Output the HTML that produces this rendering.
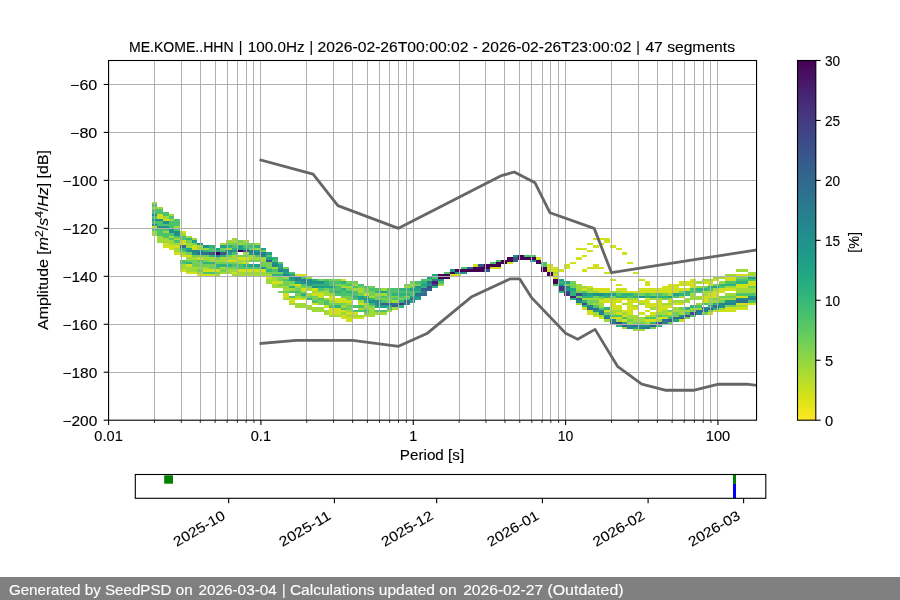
<!DOCTYPE html><html><head><meta charset="utf-8"><style>html,body{margin:0;padding:0;width:900px;height:600px;overflow:hidden;background:#fff}</style></head><body><svg width="900" height="600" viewBox="0 0 900 600" style="position:absolute;left:0;top:0;will-change:transform" font-family='"Liberation Sans", sans-serif'>
<rect x="0" y="0" width="900" height="600" fill="#fff"/>
<g shape-rendering="crispEdges">
<rect x="151.56" y="201.98" width="5.73" height="2.40" fill="#a0da39"/><rect x="151.56" y="204.38" width="5.73" height="2.40" fill="#4cc26c"/><rect x="151.56" y="206.78" width="5.73" height="2.40" fill="#a0da39"/><rect x="151.56" y="209.18" width="5.73" height="2.40" fill="#4cc26c"/><rect x="151.56" y="211.57" width="5.73" height="2.40" fill="#4cc26c"/><rect x="151.56" y="213.97" width="5.73" height="2.40" fill="#21918c"/><rect x="151.56" y="216.37" width="5.73" height="2.40" fill="#4cc26c"/><rect x="151.56" y="218.77" width="5.73" height="2.40" fill="#21918c"/><rect x="151.56" y="221.17" width="5.73" height="2.40" fill="#4cc26c"/><rect x="151.56" y="223.56" width="5.73" height="2.40" fill="#21918c"/><rect x="151.56" y="225.96" width="5.73" height="2.40" fill="#d0e11c"/><rect x="151.56" y="228.36" width="5.73" height="2.40" fill="#4cc26c"/><rect x="151.56" y="230.76" width="5.73" height="2.40" fill="#a0da39"/><rect x="151.56" y="233.16" width="5.73" height="2.40" fill="#a0da39"/><rect x="157.29" y="206.78" width="5.73" height="2.40" fill="#a0da39"/><rect x="157.29" y="209.18" width="5.73" height="2.40" fill="#4cc26c"/><rect x="157.29" y="211.57" width="5.73" height="2.40" fill="#4cc26c"/><rect x="157.29" y="213.97" width="5.73" height="2.40" fill="#d0e11c"/><rect x="157.29" y="216.37" width="5.73" height="2.40" fill="#d0e11c"/><rect x="157.29" y="218.77" width="5.73" height="2.40" fill="#21918c"/><rect x="157.29" y="221.17" width="5.73" height="2.40" fill="#4cc26c"/><rect x="157.29" y="223.56" width="5.73" height="2.40" fill="#4cc26c"/><rect x="157.29" y="225.96" width="5.73" height="2.40" fill="#21918c"/><rect x="157.29" y="228.36" width="5.73" height="2.40" fill="#4cc26c"/><rect x="157.29" y="230.76" width="5.73" height="2.40" fill="#4cc26c"/><rect x="157.29" y="233.16" width="5.73" height="2.40" fill="#4cc26c"/><rect x="157.29" y="235.55" width="5.73" height="2.40" fill="#a0da39"/><rect x="157.29" y="237.95" width="5.73" height="2.40" fill="#a0da39"/><rect x="157.29" y="240.35" width="5.73" height="2.40" fill="#a0da39"/><rect x="163.03" y="211.57" width="5.73" height="2.40" fill="#4cc26c"/><rect x="163.03" y="213.97" width="5.73" height="2.40" fill="#4cc26c"/><rect x="163.03" y="216.37" width="5.73" height="2.40" fill="#a0da39"/><rect x="163.03" y="218.77" width="5.73" height="2.40" fill="#d0e11c"/><rect x="163.03" y="221.17" width="5.73" height="2.40" fill="#21918c"/><rect x="163.03" y="223.56" width="5.73" height="2.40" fill="#4cc26c"/><rect x="163.03" y="225.96" width="5.73" height="2.40" fill="#21918c"/><rect x="163.03" y="228.36" width="5.73" height="2.40" fill="#4cc26c"/><rect x="163.03" y="230.76" width="5.73" height="2.40" fill="#a0da39"/><rect x="163.03" y="233.16" width="5.73" height="2.40" fill="#4cc26c"/><rect x="163.03" y="235.55" width="5.73" height="2.40" fill="#4cc26c"/><rect x="163.03" y="237.95" width="5.73" height="2.40" fill="#a0da39"/><rect x="163.03" y="240.35" width="5.73" height="2.40" fill="#a0da39"/><rect x="163.03" y="242.75" width="5.73" height="2.40" fill="#d0e11c"/><rect x="163.03" y="245.15" width="5.73" height="2.40" fill="#d0e11c"/><rect x="168.76" y="213.97" width="5.73" height="2.40" fill="#a0da39"/><rect x="168.76" y="216.37" width="5.73" height="2.40" fill="#4cc26c"/><rect x="168.76" y="218.77" width="5.73" height="2.40" fill="#a0da39"/><rect x="168.76" y="221.17" width="5.73" height="2.40" fill="#4cc26c"/><rect x="168.76" y="223.56" width="5.73" height="2.40" fill="#4cc26c"/><rect x="168.76" y="225.96" width="5.73" height="2.40" fill="#4cc26c"/><rect x="168.76" y="228.36" width="5.73" height="2.40" fill="#21918c"/><rect x="168.76" y="230.76" width="5.73" height="2.40" fill="#21918c"/><rect x="168.76" y="233.16" width="5.73" height="2.40" fill="#4cc26c"/><rect x="168.76" y="235.55" width="5.73" height="2.40" fill="#a0da39"/><rect x="168.76" y="237.95" width="5.73" height="2.40" fill="#4cc26c"/><rect x="168.76" y="240.35" width="5.73" height="2.40" fill="#a0da39"/><rect x="168.76" y="242.75" width="5.73" height="2.40" fill="#a0da39"/><rect x="168.76" y="245.15" width="5.73" height="2.40" fill="#d0e11c"/><rect x="168.76" y="247.54" width="5.73" height="2.40" fill="#d0e11c"/><rect x="174.49" y="218.77" width="5.73" height="2.40" fill="#4cc26c"/><rect x="174.49" y="221.17" width="5.73" height="2.40" fill="#4cc26c"/><rect x="174.49" y="223.56" width="5.73" height="2.40" fill="#4cc26c"/><rect x="174.49" y="225.96" width="5.73" height="2.40" fill="#a0da39"/><rect x="174.49" y="228.36" width="5.73" height="2.40" fill="#4cc26c"/><rect x="174.49" y="230.76" width="5.73" height="2.40" fill="#21918c"/><rect x="174.49" y="233.16" width="5.73" height="2.40" fill="#21918c"/><rect x="174.49" y="235.55" width="5.73" height="2.40" fill="#4cc26c"/><rect x="174.49" y="237.95" width="5.73" height="2.40" fill="#a0da39"/><rect x="174.49" y="240.35" width="5.73" height="2.40" fill="#4cc26c"/><rect x="174.49" y="242.75" width="5.73" height="2.40" fill="#a0da39"/><rect x="174.49" y="245.15" width="5.73" height="2.40" fill="#d0e11c"/><rect x="174.49" y="247.54" width="5.73" height="2.40" fill="#a0da39"/><rect x="174.49" y="249.94" width="5.73" height="2.40" fill="#a0da39"/><rect x="174.49" y="252.34" width="5.73" height="2.40" fill="#d0e11c"/><rect x="180.22" y="249.94" width="5.73" height="2.40" fill="#4cc26c"/><rect x="180.22" y="247.54" width="5.73" height="2.40" fill="#2eb37c"/><rect x="180.22" y="245.15" width="5.73" height="2.40" fill="#2e6f8e"/><rect x="180.22" y="240.35" width="5.73" height="2.40" fill="#d0e11c"/><rect x="180.22" y="237.95" width="5.73" height="2.40" fill="#4cc26c"/><rect x="180.22" y="235.55" width="5.73" height="2.40" fill="#4cc26c"/><rect x="180.22" y="261.93" width="5.73" height="2.40" fill="#4cc26c"/><rect x="180.22" y="259.53" width="5.73" height="2.40" fill="#4cc26c"/><rect x="180.22" y="230.76" width="5.73" height="2.40" fill="#d0e11c"/><rect x="180.22" y="233.16" width="5.73" height="2.40" fill="#a0da39"/><rect x="180.22" y="242.75" width="5.73" height="2.40" fill="#d0e11c"/><rect x="180.22" y="252.34" width="5.73" height="2.40" fill="#a0da39"/><rect x="180.22" y="254.74" width="5.73" height="2.40" fill="#d0e11c"/><rect x="180.22" y="264.33" width="5.73" height="2.40" fill="#a0da39"/><rect x="180.22" y="266.73" width="5.73" height="2.40" fill="#a0da39"/><rect x="180.22" y="269.13" width="5.73" height="2.40" fill="#d0e11c"/><rect x="185.96" y="252.34" width="5.73" height="2.40" fill="#73d056"/><rect x="185.96" y="249.94" width="5.73" height="2.40" fill="#21918c"/><rect x="185.96" y="247.54" width="5.73" height="2.40" fill="#1fa287"/><rect x="185.96" y="245.15" width="5.73" height="2.40" fill="#a0da39"/><rect x="185.96" y="240.35" width="5.73" height="2.40" fill="#73d056"/><rect x="185.96" y="237.95" width="5.73" height="2.40" fill="#2eb37c"/><rect x="185.96" y="235.55" width="5.73" height="2.40" fill="#a0da39"/><rect x="185.96" y="261.93" width="5.73" height="2.40" fill="#2eb37c"/><rect x="185.96" y="259.53" width="5.73" height="2.40" fill="#73d056"/><rect x="185.96" y="242.75" width="5.73" height="2.40" fill="#a0da39"/><rect x="185.96" y="254.74" width="5.73" height="2.40" fill="#d0e11c"/><rect x="185.96" y="257.14" width="5.73" height="2.40" fill="#a0da39"/><rect x="185.96" y="264.33" width="5.73" height="2.40" fill="#d0e11c"/><rect x="185.96" y="266.73" width="5.73" height="2.40" fill="#a0da39"/><rect x="185.96" y="269.13" width="5.73" height="2.40" fill="#a0da39"/><rect x="185.96" y="271.52" width="5.73" height="2.40" fill="#d0e11c"/><rect x="191.69" y="252.34" width="5.73" height="2.40" fill="#21918c"/><rect x="191.69" y="249.94" width="5.73" height="2.40" fill="#27808e"/><rect x="191.69" y="240.35" width="5.73" height="2.40" fill="#1fa287"/><rect x="191.69" y="237.95" width="5.73" height="2.40" fill="#a0da39"/><rect x="191.69" y="264.33" width="5.73" height="2.40" fill="#73d056"/><rect x="191.69" y="261.93" width="5.73" height="2.40" fill="#73d056"/><rect x="191.69" y="259.53" width="5.73" height="2.40" fill="#73d056"/><rect x="191.69" y="242.75" width="5.73" height="2.40" fill="#73d056"/><rect x="191.69" y="245.15" width="5.73" height="2.40" fill="#d0e11c"/><rect x="191.69" y="247.54" width="5.73" height="2.40" fill="#d0e11c"/><rect x="191.69" y="254.74" width="5.73" height="2.40" fill="#73d056"/><rect x="191.69" y="257.14" width="5.73" height="2.40" fill="#a0da39"/><rect x="191.69" y="266.73" width="5.73" height="2.40" fill="#a0da39"/><rect x="191.69" y="269.13" width="5.73" height="2.40" fill="#a0da39"/><rect x="191.69" y="271.52" width="5.73" height="2.40" fill="#d0e11c"/><rect x="197.42" y="252.34" width="5.73" height="2.40" fill="#2e6f8e"/><rect x="197.42" y="254.74" width="5.73" height="2.40" fill="#73d056"/><rect x="197.42" y="249.94" width="5.73" height="2.40" fill="#21918c"/><rect x="197.42" y="242.75" width="5.73" height="2.40" fill="#21918c"/><rect x="197.42" y="264.33" width="5.73" height="2.40" fill="#73d056"/><rect x="197.42" y="261.93" width="5.73" height="2.40" fill="#73d056"/><rect x="197.42" y="259.53" width="5.73" height="2.40" fill="#4cc26c"/><rect x="197.42" y="245.15" width="5.73" height="2.40" fill="#a0da39"/><rect x="197.42" y="247.54" width="5.73" height="2.40" fill="#a0da39"/><rect x="197.42" y="257.14" width="5.73" height="2.40" fill="#d0e11c"/><rect x="197.42" y="266.73" width="5.73" height="2.40" fill="#a0da39"/><rect x="197.42" y="269.13" width="5.73" height="2.40" fill="#73d056"/><rect x="197.42" y="271.52" width="5.73" height="2.40" fill="#a0da39"/><rect x="197.42" y="273.92" width="5.73" height="2.40" fill="#d0e11c"/><rect x="203.16" y="252.34" width="5.73" height="2.40" fill="#2e6f8e"/><rect x="203.16" y="254.74" width="5.73" height="2.40" fill="#73d056"/><rect x="203.16" y="249.94" width="5.73" height="2.40" fill="#2eb37c"/><rect x="203.16" y="245.15" width="5.73" height="2.40" fill="#21918c"/><rect x="203.16" y="264.33" width="5.73" height="2.40" fill="#73d056"/><rect x="203.16" y="261.93" width="5.73" height="2.40" fill="#2eb37c"/><rect x="203.16" y="247.54" width="5.73" height="2.40" fill="#a0da39"/><rect x="203.16" y="257.14" width="5.73" height="2.40" fill="#a0da39"/><rect x="203.16" y="259.53" width="5.73" height="2.40" fill="#73d056"/><rect x="203.16" y="266.73" width="5.73" height="2.40" fill="#a0da39"/><rect x="203.16" y="269.13" width="5.73" height="2.40" fill="#d0e11c"/><rect x="203.16" y="271.52" width="5.73" height="2.40" fill="#4cc26c"/><rect x="203.16" y="273.92" width="5.73" height="2.40" fill="#d0e11c"/><rect x="208.89" y="254.74" width="5.73" height="2.40" fill="#2eb37c"/><rect x="208.89" y="252.34" width="5.73" height="2.40" fill="#39568c"/><rect x="208.89" y="249.94" width="5.73" height="2.40" fill="#4cc26c"/><rect x="208.89" y="247.54" width="5.73" height="2.40" fill="#4cc26c"/><rect x="208.89" y="245.15" width="5.73" height="2.40" fill="#2eb37c"/><rect x="208.89" y="266.73" width="5.73" height="2.40" fill="#73d056"/><rect x="208.89" y="264.33" width="5.73" height="2.40" fill="#73d056"/><rect x="208.89" y="261.93" width="5.73" height="2.40" fill="#2eb37c"/><rect x="208.89" y="257.14" width="5.73" height="2.40" fill="#a0da39"/><rect x="208.89" y="259.53" width="5.73" height="2.40" fill="#a0da39"/><rect x="208.89" y="269.13" width="5.73" height="2.40" fill="#d0e11c"/><rect x="208.89" y="271.52" width="5.73" height="2.40" fill="#4cc26c"/><rect x="208.89" y="273.92" width="5.73" height="2.40" fill="#d0e11c"/><rect x="214.62" y="254.74" width="5.73" height="2.40" fill="#27808e"/><rect x="214.62" y="257.14" width="5.73" height="2.40" fill="#73d056"/><rect x="214.62" y="252.34" width="5.73" height="2.40" fill="#440154"/><rect x="214.62" y="249.94" width="5.73" height="2.40" fill="#2eb37c"/><rect x="214.62" y="247.54" width="5.73" height="2.40" fill="#1fa287"/><rect x="214.62" y="266.73" width="5.73" height="2.40" fill="#4cc26c"/><rect x="214.62" y="264.33" width="5.73" height="2.40" fill="#2eb37c"/><rect x="214.62" y="261.93" width="5.73" height="2.40" fill="#73d056"/><rect x="214.62" y="259.53" width="5.73" height="2.40" fill="#a0da39"/><rect x="214.62" y="269.13" width="5.73" height="2.40" fill="#d0e11c"/><rect x="214.62" y="271.52" width="5.73" height="2.40" fill="#73d056"/><rect x="214.62" y="273.92" width="5.73" height="2.40" fill="#a0da39"/><rect x="220.35" y="254.74" width="5.73" height="2.40" fill="#2eb37c"/><rect x="220.35" y="252.34" width="5.73" height="2.40" fill="#39568c"/><rect x="220.35" y="249.94" width="5.73" height="2.40" fill="#4cc26c"/><rect x="220.35" y="247.54" width="5.73" height="2.40" fill="#73d056"/><rect x="220.35" y="245.15" width="5.73" height="2.40" fill="#1fa287"/><rect x="220.35" y="266.73" width="5.73" height="2.40" fill="#a0da39"/><rect x="220.35" y="264.33" width="5.73" height="2.40" fill="#2eb37c"/><rect x="220.35" y="261.93" width="5.73" height="2.40" fill="#73d056"/><rect x="220.35" y="242.75" width="5.73" height="2.40" fill="#a0da39"/><rect x="220.35" y="257.14" width="5.73" height="2.40" fill="#a0da39"/><rect x="220.35" y="259.53" width="5.73" height="2.40" fill="#a0da39"/><rect x="220.35" y="269.13" width="5.73" height="2.40" fill="#73d056"/><rect x="220.35" y="271.52" width="5.73" height="2.40" fill="#a0da39"/><rect x="226.09" y="254.74" width="5.73" height="2.40" fill="#73d056"/><rect x="226.09" y="252.34" width="5.73" height="2.40" fill="#1fa287"/><rect x="226.09" y="249.94" width="5.73" height="2.40" fill="#27808e"/><rect x="226.09" y="247.54" width="5.73" height="2.40" fill="#a0da39"/><rect x="226.09" y="245.15" width="5.73" height="2.40" fill="#2eb37c"/><rect x="226.09" y="242.75" width="5.73" height="2.40" fill="#73d056"/><rect x="226.09" y="266.73" width="5.73" height="2.40" fill="#73d056"/><rect x="226.09" y="264.33" width="5.73" height="2.40" fill="#2eb37c"/><rect x="226.09" y="261.93" width="5.73" height="2.40" fill="#73d056"/><rect x="226.09" y="240.35" width="5.73" height="2.40" fill="#a0da39"/><rect x="226.09" y="257.14" width="5.73" height="2.40" fill="#a0da39"/><rect x="226.09" y="259.53" width="5.73" height="2.40" fill="#d0e11c"/><rect x="226.09" y="269.13" width="5.73" height="2.40" fill="#a0da39"/><rect x="226.09" y="271.52" width="5.73" height="2.40" fill="#a0da39"/><rect x="231.82" y="252.34" width="5.73" height="2.40" fill="#4cc26c"/><rect x="231.82" y="249.94" width="5.73" height="2.40" fill="#21918c"/><rect x="231.82" y="247.54" width="5.73" height="2.40" fill="#2eb37c"/><rect x="231.82" y="245.15" width="5.73" height="2.40" fill="#4cc26c"/><rect x="231.82" y="242.75" width="5.73" height="2.40" fill="#73d056"/><rect x="231.82" y="240.35" width="5.73" height="2.40" fill="#a0da39"/><rect x="231.82" y="266.73" width="5.73" height="2.40" fill="#73d056"/><rect x="231.82" y="264.33" width="5.73" height="2.40" fill="#4cc26c"/><rect x="231.82" y="261.93" width="5.73" height="2.40" fill="#73d056"/><rect x="231.82" y="237.95" width="5.73" height="2.40" fill="#a0da39"/><rect x="231.82" y="254.74" width="5.73" height="2.40" fill="#a0da39"/><rect x="231.82" y="257.14" width="5.73" height="2.40" fill="#a0da39"/><rect x="231.82" y="259.53" width="5.73" height="2.40" fill="#d0e11c"/><rect x="231.82" y="269.13" width="5.73" height="2.40" fill="#a0da39"/><rect x="231.82" y="271.52" width="5.73" height="2.40" fill="#d0e11c"/><rect x="231.82" y="273.92" width="5.73" height="2.40" fill="#a0da39"/><rect x="237.55" y="249.94" width="5.73" height="2.40" fill="#440154"/><rect x="237.55" y="247.54" width="5.73" height="2.40" fill="#1fa287"/><rect x="237.55" y="245.15" width="5.73" height="2.40" fill="#1fa287"/><rect x="237.55" y="242.75" width="5.73" height="2.40" fill="#a0da39"/><rect x="237.55" y="240.35" width="5.73" height="2.40" fill="#73d056"/><rect x="237.55" y="266.73" width="5.73" height="2.40" fill="#4cc26c"/><rect x="237.55" y="264.33" width="5.73" height="2.40" fill="#4cc26c"/><rect x="237.55" y="261.93" width="5.73" height="2.40" fill="#a0da39"/><rect x="237.55" y="254.74" width="5.73" height="2.40" fill="#73d056"/><rect x="237.55" y="257.14" width="5.73" height="2.40" fill="#d0e11c"/><rect x="237.55" y="259.53" width="5.73" height="2.40" fill="#a0da39"/><rect x="237.55" y="269.13" width="5.73" height="2.40" fill="#d0e11c"/><rect x="237.55" y="271.52" width="5.73" height="2.40" fill="#a0da39"/><rect x="237.55" y="273.92" width="5.73" height="2.40" fill="#a0da39"/><rect x="243.28" y="249.94" width="5.73" height="2.40" fill="#39568c"/><rect x="243.28" y="252.34" width="5.73" height="2.40" fill="#a0da39"/><rect x="243.28" y="247.54" width="5.73" height="2.40" fill="#2eb37c"/><rect x="243.28" y="245.15" width="5.73" height="2.40" fill="#4cc26c"/><rect x="243.28" y="242.75" width="5.73" height="2.40" fill="#73d056"/><rect x="243.28" y="266.73" width="5.73" height="2.40" fill="#4cc26c"/><rect x="243.28" y="264.33" width="5.73" height="2.40" fill="#2eb37c"/><rect x="243.28" y="240.35" width="5.73" height="2.40" fill="#a0da39"/><rect x="243.28" y="254.74" width="5.73" height="2.40" fill="#73d056"/><rect x="243.28" y="257.14" width="5.73" height="2.40" fill="#d0e11c"/><rect x="243.28" y="259.53" width="5.73" height="2.40" fill="#a0da39"/><rect x="243.28" y="261.93" width="5.73" height="2.40" fill="#d0e11c"/><rect x="243.28" y="269.13" width="5.73" height="2.40" fill="#d0e11c"/><rect x="243.28" y="271.52" width="5.73" height="2.40" fill="#a0da39"/><rect x="243.28" y="273.92" width="5.73" height="2.40" fill="#a0da39"/><rect x="249.02" y="252.34" width="5.73" height="2.40" fill="#21918c"/><rect x="249.02" y="254.74" width="5.73" height="2.40" fill="#a0da39"/><rect x="249.02" y="249.94" width="5.73" height="2.40" fill="#27808e"/><rect x="249.02" y="247.54" width="5.73" height="2.40" fill="#73d056"/><rect x="249.02" y="245.15" width="5.73" height="2.40" fill="#4cc26c"/><rect x="249.02" y="242.75" width="5.73" height="2.40" fill="#73d056"/><rect x="249.02" y="266.73" width="5.73" height="2.40" fill="#4cc26c"/><rect x="249.02" y="264.33" width="5.73" height="2.40" fill="#1fa287"/><rect x="249.02" y="257.14" width="5.73" height="2.40" fill="#a0da39"/><rect x="249.02" y="259.53" width="5.73" height="2.40" fill="#73d056"/><rect x="249.02" y="269.13" width="5.73" height="2.40" fill="#d0e11c"/><rect x="249.02" y="271.52" width="5.73" height="2.40" fill="#a0da39"/><rect x="249.02" y="273.92" width="5.73" height="2.40" fill="#a0da39"/><rect x="254.75" y="254.74" width="5.73" height="2.40" fill="#4cc26c"/><rect x="254.75" y="252.34" width="5.73" height="2.40" fill="#27808e"/><rect x="254.75" y="249.94" width="5.73" height="2.40" fill="#1fa287"/><rect x="254.75" y="247.54" width="5.73" height="2.40" fill="#a0da39"/><rect x="254.75" y="245.15" width="5.73" height="2.40" fill="#2eb37c"/><rect x="254.75" y="266.73" width="5.73" height="2.40" fill="#4cc26c"/><rect x="254.75" y="264.33" width="5.73" height="2.40" fill="#1fa287"/><rect x="254.75" y="242.75" width="5.73" height="2.40" fill="#a0da39"/><rect x="254.75" y="257.14" width="5.73" height="2.40" fill="#a0da39"/><rect x="254.75" y="259.53" width="5.73" height="2.40" fill="#73d056"/><rect x="254.75" y="269.13" width="5.73" height="2.40" fill="#d0e11c"/><rect x="254.75" y="271.52" width="5.73" height="2.40" fill="#a0da39"/><rect x="254.75" y="273.92" width="5.73" height="2.40" fill="#a0da39"/><rect x="260.48" y="257.14" width="5.73" height="2.40" fill="#a0da39"/><rect x="260.48" y="254.74" width="5.73" height="2.40" fill="#27808e"/><rect x="260.48" y="252.34" width="5.73" height="2.40" fill="#27808e"/><rect x="260.48" y="249.94" width="5.73" height="2.40" fill="#73d056"/><rect x="260.48" y="247.54" width="5.73" height="2.40" fill="#1fa287"/><rect x="260.48" y="266.73" width="5.73" height="2.40" fill="#21918c"/><rect x="260.48" y="264.33" width="5.73" height="2.40" fill="#73d056"/><rect x="260.48" y="259.53" width="5.73" height="2.40" fill="#a0da39"/><rect x="260.48" y="261.93" width="5.73" height="2.40" fill="#73d056"/><rect x="260.48" y="269.13" width="5.73" height="2.40" fill="#d0e11c"/><rect x="260.48" y="271.52" width="5.73" height="2.40" fill="#a0da39"/><rect x="260.48" y="273.92" width="5.73" height="2.40" fill="#a0da39"/><rect x="266.22" y="261.93" width="5.73" height="2.40" fill="#73d056"/><rect x="266.22" y="259.53" width="5.73" height="2.40" fill="#39568c"/><rect x="266.22" y="257.14" width="5.73" height="2.40" fill="#1fa287"/><rect x="266.22" y="254.74" width="5.73" height="2.40" fill="#4cc26c"/><rect x="266.22" y="252.34" width="5.73" height="2.40" fill="#1fa287"/><rect x="266.22" y="269.13" width="5.73" height="2.40" fill="#2eb37c"/><rect x="266.22" y="266.73" width="5.73" height="2.40" fill="#73d056"/><rect x="266.22" y="264.33" width="5.73" height="2.40" fill="#73d056"/><rect x="266.22" y="271.52" width="5.73" height="2.40" fill="#73d056"/><rect x="266.22" y="273.92" width="5.73" height="2.40" fill="#a0da39"/><rect x="266.22" y="276.32" width="5.73" height="2.40" fill="#d0e11c"/><rect x="266.22" y="278.72" width="5.73" height="2.40" fill="#a0da39"/><rect x="266.22" y="281.12" width="5.73" height="2.40" fill="#a0da39"/><rect x="271.95" y="264.33" width="5.73" height="2.40" fill="#27808e"/><rect x="271.95" y="261.93" width="5.73" height="2.40" fill="#21918c"/><rect x="271.95" y="259.53" width="5.73" height="2.40" fill="#4cc26c"/><rect x="271.95" y="257.14" width="5.73" height="2.40" fill="#2eb37c"/><rect x="271.95" y="273.92" width="5.73" height="2.40" fill="#2eb37c"/><rect x="271.95" y="271.52" width="5.73" height="2.40" fill="#73d056"/><rect x="271.95" y="269.13" width="5.73" height="2.40" fill="#4cc26c"/><rect x="271.95" y="266.73" width="5.73" height="2.40" fill="#a0da39"/><rect x="271.95" y="276.32" width="5.73" height="2.40" fill="#a0da39"/><rect x="271.95" y="278.72" width="5.73" height="2.40" fill="#a0da39"/><rect x="271.95" y="281.12" width="5.73" height="2.40" fill="#d0e11c"/><rect x="271.95" y="283.51" width="5.73" height="2.40" fill="#a0da39"/><rect x="271.95" y="285.91" width="5.73" height="2.40" fill="#a0da39"/><rect x="277.68" y="269.13" width="5.73" height="2.40" fill="#27808e"/><rect x="277.68" y="266.73" width="5.73" height="2.40" fill="#1fa287"/><rect x="277.68" y="264.33" width="5.73" height="2.40" fill="#1fa287"/><rect x="277.68" y="261.93" width="5.73" height="2.40" fill="#4cc26c"/><rect x="277.68" y="276.32" width="5.73" height="2.40" fill="#73d056"/><rect x="277.68" y="273.92" width="5.73" height="2.40" fill="#2eb37c"/><rect x="277.68" y="271.52" width="5.73" height="2.40" fill="#73d056"/><rect x="277.68" y="278.72" width="5.73" height="2.40" fill="#73d056"/><rect x="277.68" y="281.12" width="5.73" height="2.40" fill="#d0e11c"/><rect x="277.68" y="283.51" width="5.73" height="2.40" fill="#73d056"/><rect x="277.68" y="285.91" width="5.73" height="2.40" fill="#a0da39"/><rect x="277.68" y="290.71" width="5.73" height="2.40" fill="#73d056"/><rect x="283.41" y="273.92" width="5.73" height="2.40" fill="#27808e"/><rect x="283.41" y="271.52" width="5.73" height="2.40" fill="#1fa287"/><rect x="283.41" y="269.13" width="5.73" height="2.40" fill="#21918c"/><rect x="283.41" y="266.73" width="5.73" height="2.40" fill="#73d056"/><rect x="283.41" y="283.51" width="5.73" height="2.40" fill="#73d056"/><rect x="283.41" y="281.12" width="5.73" height="2.40" fill="#73d056"/><rect x="283.41" y="278.72" width="5.73" height="2.40" fill="#4cc26c"/><rect x="283.41" y="276.32" width="5.73" height="2.40" fill="#a0da39"/><rect x="283.41" y="285.91" width="5.73" height="2.40" fill="#a0da39"/><rect x="283.41" y="288.31" width="5.73" height="2.40" fill="#a0da39"/><rect x="283.41" y="290.71" width="5.73" height="2.40" fill="#73d056"/><rect x="283.41" y="293.11" width="5.73" height="2.40" fill="#d0e11c"/><rect x="283.41" y="295.50" width="5.73" height="2.40" fill="#d0e11c"/><rect x="283.41" y="297.90" width="5.73" height="2.40" fill="#a0da39"/><rect x="289.15" y="278.72" width="5.73" height="2.40" fill="#1fa287"/><rect x="289.15" y="281.12" width="5.73" height="2.40" fill="#73d056"/><rect x="289.15" y="276.32" width="5.73" height="2.40" fill="#21918c"/><rect x="289.15" y="273.92" width="5.73" height="2.40" fill="#1fa287"/><rect x="289.15" y="271.52" width="5.73" height="2.40" fill="#4cc26c"/><rect x="289.15" y="290.71" width="5.73" height="2.40" fill="#4cc26c"/><rect x="289.15" y="288.31" width="5.73" height="2.40" fill="#a0da39"/><rect x="289.15" y="285.91" width="5.73" height="2.40" fill="#2eb37c"/><rect x="289.15" y="283.51" width="5.73" height="2.40" fill="#a0da39"/><rect x="289.15" y="295.50" width="5.73" height="2.40" fill="#4cc26c"/><rect x="289.15" y="297.90" width="5.73" height="2.40" fill="#d0e11c"/><rect x="289.15" y="300.30" width="5.73" height="2.40" fill="#d0e11c"/><rect x="289.15" y="302.70" width="5.73" height="2.40" fill="#a0da39"/><rect x="294.88" y="283.51" width="5.73" height="2.40" fill="#d0e11c"/><rect x="294.88" y="281.12" width="5.73" height="2.40" fill="#1fa287"/><rect x="294.88" y="278.72" width="5.73" height="2.40" fill="#27808e"/><rect x="294.88" y="276.32" width="5.73" height="2.40" fill="#27808e"/><rect x="294.88" y="293.11" width="5.73" height="2.40" fill="#73d056"/><rect x="294.88" y="290.71" width="5.73" height="2.40" fill="#4cc26c"/><rect x="294.88" y="288.31" width="5.73" height="2.40" fill="#73d056"/><rect x="294.88" y="273.92" width="5.73" height="2.40" fill="#d0e11c"/><rect x="294.88" y="285.91" width="5.73" height="2.40" fill="#a0da39"/><rect x="294.88" y="295.50" width="5.73" height="2.40" fill="#a0da39"/><rect x="294.88" y="297.90" width="5.73" height="2.40" fill="#d0e11c"/><rect x="294.88" y="302.70" width="5.73" height="2.40" fill="#a0da39"/><rect x="294.88" y="305.10" width="5.73" height="2.40" fill="#a0da39"/><rect x="300.61" y="285.91" width="5.73" height="2.40" fill="#73d056"/><rect x="300.61" y="283.51" width="5.73" height="2.40" fill="#4cc26c"/><rect x="300.61" y="281.12" width="5.73" height="2.40" fill="#21918c"/><rect x="300.61" y="278.72" width="5.73" height="2.40" fill="#27808e"/><rect x="300.61" y="276.32" width="5.73" height="2.40" fill="#4cc26c"/><rect x="300.61" y="295.50" width="5.73" height="2.40" fill="#73d056"/><rect x="300.61" y="293.11" width="5.73" height="2.40" fill="#2eb37c"/><rect x="300.61" y="290.71" width="5.73" height="2.40" fill="#a0da39"/><rect x="300.61" y="273.92" width="5.73" height="2.40" fill="#d0e11c"/><rect x="300.61" y="288.31" width="5.73" height="2.40" fill="#d0e11c"/><rect x="300.61" y="297.90" width="5.73" height="2.40" fill="#d0e11c"/><rect x="300.61" y="302.70" width="5.73" height="2.40" fill="#a0da39"/><rect x="300.61" y="305.10" width="5.73" height="2.40" fill="#a0da39"/><rect x="306.34" y="285.91" width="5.73" height="2.40" fill="#73d056"/><rect x="306.34" y="283.51" width="5.73" height="2.40" fill="#1fa287"/><rect x="306.34" y="281.12" width="5.73" height="2.40" fill="#21918c"/><rect x="306.34" y="278.72" width="5.73" height="2.40" fill="#21918c"/><rect x="306.34" y="276.32" width="5.73" height="2.40" fill="#a0da39"/><rect x="306.34" y="297.90" width="5.73" height="2.40" fill="#2eb37c"/><rect x="306.34" y="295.50" width="5.73" height="2.40" fill="#73d056"/><rect x="306.34" y="293.11" width="5.73" height="2.40" fill="#a0da39"/><rect x="306.34" y="288.31" width="5.73" height="2.40" fill="#a0da39"/><rect x="306.34" y="305.10" width="5.73" height="2.40" fill="#a0da39"/><rect x="306.34" y="307.49" width="5.73" height="2.40" fill="#a0da39"/><rect x="312.08" y="285.91" width="5.73" height="2.40" fill="#21918c"/><rect x="312.08" y="283.51" width="5.73" height="2.40" fill="#2eb37c"/><rect x="312.08" y="281.12" width="5.73" height="2.40" fill="#21918c"/><rect x="312.08" y="278.72" width="5.73" height="2.40" fill="#2eb37c"/><rect x="312.08" y="300.30" width="5.73" height="2.40" fill="#4cc26c"/><rect x="312.08" y="297.90" width="5.73" height="2.40" fill="#73d056"/><rect x="312.08" y="295.50" width="5.73" height="2.40" fill="#73d056"/><rect x="312.08" y="288.31" width="5.73" height="2.40" fill="#d0e11c"/><rect x="312.08" y="290.71" width="5.73" height="2.40" fill="#a0da39"/><rect x="312.08" y="293.11" width="5.73" height="2.40" fill="#d0e11c"/><rect x="312.08" y="302.70" width="5.73" height="2.40" fill="#d0e11c"/><rect x="312.08" y="307.49" width="5.73" height="2.40" fill="#a0da39"/><rect x="312.08" y="309.89" width="5.73" height="2.40" fill="#a0da39"/><rect x="317.81" y="288.31" width="5.73" height="2.40" fill="#4cc26c"/><rect x="317.81" y="285.91" width="5.73" height="2.40" fill="#1fa287"/><rect x="317.81" y="283.51" width="5.73" height="2.40" fill="#2eb37c"/><rect x="317.81" y="281.12" width="5.73" height="2.40" fill="#21918c"/><rect x="317.81" y="278.72" width="5.73" height="2.40" fill="#73d056"/><rect x="317.81" y="302.70" width="5.73" height="2.40" fill="#73d056"/><rect x="317.81" y="300.30" width="5.73" height="2.40" fill="#73d056"/><rect x="317.81" y="297.90" width="5.73" height="2.40" fill="#4cc26c"/><rect x="317.81" y="290.71" width="5.73" height="2.40" fill="#a0da39"/><rect x="317.81" y="293.11" width="5.73" height="2.40" fill="#d0e11c"/><rect x="317.81" y="295.50" width="5.73" height="2.40" fill="#d0e11c"/><rect x="317.81" y="307.49" width="5.73" height="2.40" fill="#a0da39"/><rect x="317.81" y="309.89" width="5.73" height="2.40" fill="#a0da39"/><rect x="323.54" y="288.31" width="5.73" height="2.40" fill="#73d056"/><rect x="323.54" y="290.71" width="5.73" height="2.40" fill="#a0da39"/><rect x="323.54" y="285.91" width="5.73" height="2.40" fill="#1fa287"/><rect x="323.54" y="283.51" width="5.73" height="2.40" fill="#2eb37c"/><rect x="323.54" y="281.12" width="5.73" height="2.40" fill="#2eb37c"/><rect x="323.54" y="278.72" width="5.73" height="2.40" fill="#4cc26c"/><rect x="323.54" y="305.10" width="5.73" height="2.40" fill="#d0e11c"/><rect x="323.54" y="302.70" width="5.73" height="2.40" fill="#4cc26c"/><rect x="323.54" y="300.30" width="5.73" height="2.40" fill="#4cc26c"/><rect x="323.54" y="293.11" width="5.73" height="2.40" fill="#a0da39"/><rect x="323.54" y="297.90" width="5.73" height="2.40" fill="#a0da39"/><rect x="323.54" y="309.89" width="5.73" height="2.40" fill="#a0da39"/><rect x="323.54" y="312.29" width="5.73" height="2.40" fill="#a0da39"/><rect x="329.28" y="290.71" width="5.73" height="2.40" fill="#4cc26c"/><rect x="329.28" y="288.31" width="5.73" height="2.40" fill="#4cc26c"/><rect x="329.28" y="285.91" width="5.73" height="2.40" fill="#1fa287"/><rect x="329.28" y="283.51" width="5.73" height="2.40" fill="#4cc26c"/><rect x="329.28" y="281.12" width="5.73" height="2.40" fill="#4cc26c"/><rect x="329.28" y="278.72" width="5.73" height="2.40" fill="#73d056"/><rect x="329.28" y="307.49" width="5.73" height="2.40" fill="#d0e11c"/><rect x="329.28" y="305.10" width="5.73" height="2.40" fill="#4cc26c"/><rect x="329.28" y="302.70" width="5.73" height="2.40" fill="#73d056"/><rect x="329.28" y="300.30" width="5.73" height="2.40" fill="#a0da39"/><rect x="329.28" y="293.11" width="5.73" height="2.40" fill="#a0da39"/><rect x="329.28" y="295.50" width="5.73" height="2.40" fill="#d0e11c"/><rect x="329.28" y="297.90" width="5.73" height="2.40" fill="#d0e11c"/><rect x="329.28" y="309.89" width="5.73" height="2.40" fill="#d0e11c"/><rect x="329.28" y="312.29" width="5.73" height="2.40" fill="#d0e11c"/><rect x="329.28" y="314.69" width="5.73" height="2.40" fill="#a0da39"/><rect x="335.01" y="293.11" width="5.73" height="2.40" fill="#4cc26c"/><rect x="335.01" y="290.71" width="5.73" height="2.40" fill="#2eb37c"/><rect x="335.01" y="288.31" width="5.73" height="2.40" fill="#4cc26c"/><rect x="335.01" y="285.91" width="5.73" height="2.40" fill="#4cc26c"/><rect x="335.01" y="283.51" width="5.73" height="2.40" fill="#73d056"/><rect x="335.01" y="281.12" width="5.73" height="2.40" fill="#4cc26c"/><rect x="335.01" y="278.72" width="5.73" height="2.40" fill="#73d056"/><rect x="335.01" y="307.49" width="5.73" height="2.40" fill="#d0e11c"/><rect x="335.01" y="305.10" width="5.73" height="2.40" fill="#2eb37c"/><rect x="335.01" y="302.70" width="5.73" height="2.40" fill="#73d056"/><rect x="335.01" y="297.90" width="5.73" height="2.40" fill="#d0e11c"/><rect x="335.01" y="300.30" width="5.73" height="2.40" fill="#d0e11c"/><rect x="335.01" y="309.89" width="5.73" height="2.40" fill="#d0e11c"/><rect x="335.01" y="312.29" width="5.73" height="2.40" fill="#d0e11c"/><rect x="335.01" y="314.69" width="5.73" height="2.40" fill="#a0da39"/><rect x="340.74" y="295.50" width="5.73" height="2.40" fill="#73d056"/><rect x="340.74" y="293.11" width="5.73" height="2.40" fill="#4cc26c"/><rect x="340.74" y="290.71" width="5.73" height="2.40" fill="#4cc26c"/><rect x="340.74" y="288.31" width="5.73" height="2.40" fill="#2eb37c"/><rect x="340.74" y="283.51" width="5.73" height="2.40" fill="#73d056"/><rect x="340.74" y="281.12" width="5.73" height="2.40" fill="#2eb37c"/><rect x="340.74" y="278.72" width="5.73" height="2.40" fill="#d0e11c"/><rect x="340.74" y="309.89" width="5.73" height="2.40" fill="#d0e11c"/><rect x="340.74" y="307.49" width="5.73" height="2.40" fill="#4cc26c"/><rect x="340.74" y="305.10" width="5.73" height="2.40" fill="#a0da39"/><rect x="340.74" y="302.70" width="5.73" height="2.40" fill="#73d056"/><rect x="340.74" y="285.91" width="5.73" height="2.40" fill="#a0da39"/><rect x="340.74" y="297.90" width="5.73" height="2.40" fill="#d0e11c"/><rect x="340.74" y="300.30" width="5.73" height="2.40" fill="#d0e11c"/><rect x="340.74" y="312.29" width="5.73" height="2.40" fill="#a0da39"/><rect x="340.74" y="314.69" width="5.73" height="2.40" fill="#d0e11c"/><rect x="340.74" y="317.09" width="5.73" height="2.40" fill="#d0e11c"/><rect x="346.47" y="297.90" width="5.73" height="2.40" fill="#73d056"/><rect x="346.47" y="295.50" width="5.73" height="2.40" fill="#73d056"/><rect x="346.47" y="293.11" width="5.73" height="2.40" fill="#4cc26c"/><rect x="346.47" y="290.71" width="5.73" height="2.40" fill="#2eb37c"/><rect x="346.47" y="288.31" width="5.73" height="2.40" fill="#73d056"/><rect x="346.47" y="283.51" width="5.73" height="2.40" fill="#4cc26c"/><rect x="346.47" y="281.12" width="5.73" height="2.40" fill="#73d056"/><rect x="346.47" y="309.89" width="5.73" height="2.40" fill="#a0da39"/><rect x="346.47" y="307.49" width="5.73" height="2.40" fill="#73d056"/><rect x="346.47" y="305.10" width="5.73" height="2.40" fill="#73d056"/><rect x="346.47" y="302.70" width="5.73" height="2.40" fill="#a0da39"/><rect x="346.47" y="285.91" width="5.73" height="2.40" fill="#a0da39"/><rect x="346.47" y="300.30" width="5.73" height="2.40" fill="#d0e11c"/><rect x="346.47" y="312.29" width="5.73" height="2.40" fill="#d0e11c"/><rect x="346.47" y="314.69" width="5.73" height="2.40" fill="#a0da39"/><rect x="346.47" y="317.09" width="5.73" height="2.40" fill="#d0e11c"/><rect x="346.47" y="319.48" width="5.73" height="2.40" fill="#d0e11c"/><rect x="352.21" y="297.90" width="5.73" height="2.40" fill="#4cc26c"/><rect x="352.21" y="295.50" width="5.73" height="2.40" fill="#2eb37c"/><rect x="352.21" y="293.11" width="5.73" height="2.40" fill="#4cc26c"/><rect x="352.21" y="290.71" width="5.73" height="2.40" fill="#4cc26c"/><rect x="352.21" y="285.91" width="5.73" height="2.40" fill="#4cc26c"/><rect x="352.21" y="283.51" width="5.73" height="2.40" fill="#a0da39"/><rect x="352.21" y="281.12" width="5.73" height="2.40" fill="#73d056"/><rect x="352.21" y="309.89" width="5.73" height="2.40" fill="#4cc26c"/><rect x="352.21" y="305.10" width="5.73" height="2.40" fill="#4cc26c"/><rect x="352.21" y="288.31" width="5.73" height="2.40" fill="#a0da39"/><rect x="352.21" y="312.29" width="5.73" height="2.40" fill="#d0e11c"/><rect x="352.21" y="314.69" width="5.73" height="2.40" fill="#a0da39"/><rect x="352.21" y="317.09" width="5.73" height="2.40" fill="#d0e11c"/><rect x="357.94" y="297.90" width="5.73" height="2.40" fill="#1fa287"/><rect x="357.94" y="300.30" width="5.73" height="2.40" fill="#a0da39"/><rect x="357.94" y="295.50" width="5.73" height="2.40" fill="#1fa287"/><rect x="357.94" y="293.11" width="5.73" height="2.40" fill="#73d056"/><rect x="357.94" y="285.91" width="5.73" height="2.40" fill="#73d056"/><rect x="357.94" y="288.31" width="5.73" height="2.40" fill="#a0da39"/><rect x="357.94" y="283.51" width="5.73" height="2.40" fill="#4cc26c"/><rect x="357.94" y="309.89" width="5.73" height="2.40" fill="#4cc26c"/><rect x="357.94" y="307.49" width="5.73" height="2.40" fill="#a0da39"/><rect x="357.94" y="305.10" width="5.73" height="2.40" fill="#4cc26c"/><rect x="357.94" y="290.71" width="5.73" height="2.40" fill="#a0da39"/><rect x="357.94" y="302.70" width="5.73" height="2.40" fill="#d0e11c"/><rect x="357.94" y="314.69" width="5.73" height="2.40" fill="#a0da39"/><rect x="357.94" y="317.09" width="5.73" height="2.40" fill="#d0e11c"/><rect x="363.67" y="300.30" width="5.73" height="2.40" fill="#2eb37c"/><rect x="363.67" y="297.90" width="5.73" height="2.40" fill="#21918c"/><rect x="363.67" y="295.50" width="5.73" height="2.40" fill="#2eb37c"/><rect x="363.67" y="288.31" width="5.73" height="2.40" fill="#73d056"/><rect x="363.67" y="290.71" width="5.73" height="2.40" fill="#73d056"/><rect x="363.67" y="285.91" width="5.73" height="2.40" fill="#4cc26c"/><rect x="363.67" y="312.29" width="5.73" height="2.40" fill="#73d056"/><rect x="363.67" y="309.89" width="5.73" height="2.40" fill="#4cc26c"/><rect x="363.67" y="307.49" width="5.73" height="2.40" fill="#73d056"/><rect x="363.67" y="293.11" width="5.73" height="2.40" fill="#d0e11c"/><rect x="363.67" y="302.70" width="5.73" height="2.40" fill="#a0da39"/><rect x="363.67" y="305.10" width="5.73" height="2.40" fill="#a0da39"/><rect x="363.67" y="314.69" width="5.73" height="2.40" fill="#d0e11c"/><rect x="369.40" y="302.70" width="5.73" height="2.40" fill="#2eb37c"/><rect x="369.40" y="300.30" width="5.73" height="2.40" fill="#21918c"/><rect x="369.40" y="297.90" width="5.73" height="2.40" fill="#2eb37c"/><rect x="369.40" y="290.71" width="5.73" height="2.40" fill="#73d056"/><rect x="369.40" y="288.31" width="5.73" height="2.40" fill="#4cc26c"/><rect x="369.40" y="285.91" width="5.73" height="2.40" fill="#73d056"/><rect x="369.40" y="293.11" width="5.73" height="2.40" fill="#73d056"/><rect x="369.40" y="295.50" width="5.73" height="2.40" fill="#a0da39"/><rect x="369.40" y="305.10" width="5.73" height="2.40" fill="#73d056"/><rect x="369.40" y="307.49" width="5.73" height="2.40" fill="#a0da39"/><rect x="369.40" y="309.89" width="5.73" height="2.40" fill="#a0da39"/><rect x="369.40" y="312.29" width="5.73" height="2.40" fill="#a0da39"/><rect x="369.40" y="314.69" width="5.73" height="2.40" fill="#a0da39"/><rect x="375.14" y="305.10" width="5.73" height="2.40" fill="#1fa287"/><rect x="375.14" y="302.70" width="5.73" height="2.40" fill="#21918c"/><rect x="375.14" y="300.30" width="5.73" height="2.40" fill="#21918c"/><rect x="375.14" y="293.11" width="5.73" height="2.40" fill="#a0da39"/><rect x="375.14" y="290.71" width="5.73" height="2.40" fill="#2eb37c"/><rect x="375.14" y="288.31" width="5.73" height="2.40" fill="#4cc26c"/><rect x="375.14" y="295.50" width="5.73" height="2.40" fill="#73d056"/><rect x="375.14" y="297.90" width="5.73" height="2.40" fill="#73d056"/><rect x="375.14" y="309.89" width="5.73" height="2.40" fill="#4cc26c"/><rect x="375.14" y="312.29" width="5.73" height="2.40" fill="#a0da39"/><rect x="380.87" y="305.10" width="5.73" height="2.40" fill="#1fa287"/><rect x="380.87" y="302.70" width="5.73" height="2.40" fill="#365d8d"/><rect x="380.87" y="300.30" width="5.73" height="2.40" fill="#4cc26c"/><rect x="380.87" y="295.50" width="5.73" height="2.40" fill="#4cc26c"/><rect x="380.87" y="293.11" width="5.73" height="2.40" fill="#a0da39"/><rect x="380.87" y="290.71" width="5.73" height="2.40" fill="#1fa287"/><rect x="380.87" y="288.31" width="5.73" height="2.40" fill="#a0da39"/><rect x="380.87" y="297.90" width="5.73" height="2.40" fill="#73d056"/><rect x="380.87" y="309.89" width="5.73" height="2.40" fill="#4cc26c"/><rect x="380.87" y="312.29" width="5.73" height="2.40" fill="#a0da39"/><rect x="386.60" y="305.10" width="5.73" height="2.40" fill="#1fa287"/><rect x="386.60" y="302.70" width="5.73" height="2.40" fill="#365d8d"/><rect x="386.60" y="300.30" width="5.73" height="2.40" fill="#73d056"/><rect x="386.60" y="293.11" width="5.73" height="2.40" fill="#4cc26c"/><rect x="386.60" y="290.71" width="5.73" height="2.40" fill="#4cc26c"/><rect x="386.60" y="288.31" width="5.73" height="2.40" fill="#4cc26c"/><rect x="386.60" y="295.50" width="5.73" height="2.40" fill="#73d056"/><rect x="386.60" y="297.90" width="5.73" height="2.40" fill="#73d056"/><rect x="386.60" y="307.49" width="5.73" height="2.40" fill="#4cc26c"/><rect x="386.60" y="309.89" width="5.73" height="2.40" fill="#a0da39"/><rect x="392.34" y="305.10" width="5.73" height="2.40" fill="#365d8d"/><rect x="392.34" y="302.70" width="5.73" height="2.40" fill="#2e6f8e"/><rect x="392.34" y="293.11" width="5.73" height="2.40" fill="#2eb37c"/><rect x="392.34" y="290.71" width="5.73" height="2.40" fill="#4cc26c"/><rect x="392.34" y="288.31" width="5.73" height="2.40" fill="#4cc26c"/><rect x="392.34" y="295.50" width="5.73" height="2.40" fill="#73d056"/><rect x="392.34" y="297.90" width="5.73" height="2.40" fill="#4cc26c"/><rect x="392.34" y="300.30" width="5.73" height="2.40" fill="#a0da39"/><rect x="392.34" y="307.49" width="5.73" height="2.40" fill="#a0da39"/><rect x="398.07" y="302.70" width="5.73" height="2.40" fill="#463480"/><rect x="398.07" y="305.10" width="5.73" height="2.40" fill="#2eb37c"/><rect x="398.07" y="300.30" width="5.73" height="2.40" fill="#2eb37c"/><rect x="398.07" y="290.71" width="5.73" height="2.40" fill="#4cc26c"/><rect x="398.07" y="293.11" width="5.73" height="2.40" fill="#2eb37c"/><rect x="398.07" y="288.31" width="5.73" height="2.40" fill="#2eb37c"/><rect x="398.07" y="295.50" width="5.73" height="2.40" fill="#4cc26c"/><rect x="398.07" y="297.90" width="5.73" height="2.40" fill="#73d056"/><rect x="403.80" y="302.70" width="5.73" height="2.40" fill="#27808e"/><rect x="403.80" y="300.30" width="5.73" height="2.40" fill="#2e6f8e"/><rect x="403.80" y="297.90" width="5.73" height="2.40" fill="#4cc26c"/><rect x="403.80" y="293.11" width="5.73" height="2.40" fill="#2eb37c"/><rect x="403.80" y="290.71" width="5.73" height="2.40" fill="#4cc26c"/><rect x="403.80" y="288.31" width="5.73" height="2.40" fill="#2eb37c"/><rect x="403.80" y="283.51" width="5.73" height="2.40" fill="#73d056"/><rect x="403.80" y="285.91" width="5.73" height="2.40" fill="#a0da39"/><rect x="403.80" y="295.50" width="5.73" height="2.40" fill="#73d056"/><rect x="409.53" y="300.30" width="5.73" height="2.40" fill="#1fa287"/><rect x="409.53" y="297.90" width="5.73" height="2.40" fill="#2e6f8e"/><rect x="409.53" y="295.50" width="5.73" height="2.40" fill="#1fa287"/><rect x="409.53" y="293.11" width="5.73" height="2.40" fill="#4cc26c"/><rect x="409.53" y="290.71" width="5.73" height="2.40" fill="#4cc26c"/><rect x="409.53" y="288.31" width="5.73" height="2.40" fill="#1fa287"/><rect x="409.53" y="281.12" width="5.73" height="2.40" fill="#73d056"/><rect x="409.53" y="283.51" width="5.73" height="2.40" fill="#a0da39"/><rect x="409.53" y="285.91" width="5.73" height="2.40" fill="#73d056"/><rect x="415.27" y="297.90" width="5.73" height="2.40" fill="#1fa287"/><rect x="415.27" y="295.50" width="5.73" height="2.40" fill="#21918c"/><rect x="415.27" y="293.11" width="5.73" height="2.40" fill="#2e6f8e"/><rect x="415.27" y="290.71" width="5.73" height="2.40" fill="#2eb37c"/><rect x="415.27" y="288.31" width="5.73" height="2.40" fill="#1fa287"/><rect x="415.27" y="285.91" width="5.73" height="2.40" fill="#21918c"/><rect x="415.27" y="281.12" width="5.73" height="2.40" fill="#4cc26c"/><rect x="415.27" y="283.51" width="5.73" height="2.40" fill="#73d056"/><rect x="421.00" y="293.11" width="5.73" height="2.40" fill="#2e6f8e"/><rect x="421.00" y="290.71" width="5.73" height="2.40" fill="#27808e"/><rect x="421.00" y="288.31" width="5.73" height="2.40" fill="#365d8d"/><rect x="421.00" y="285.91" width="5.73" height="2.40" fill="#2eb37c"/><rect x="421.00" y="283.51" width="5.73" height="2.40" fill="#1fa287"/><rect x="421.00" y="278.72" width="5.73" height="2.40" fill="#4cc26c"/><rect x="421.00" y="281.12" width="5.73" height="2.40" fill="#2eb37c"/><rect x="426.73" y="288.31" width="5.73" height="2.40" fill="#365d8d"/><rect x="426.73" y="285.91" width="5.73" height="2.40" fill="#3e4989"/><rect x="426.73" y="283.51" width="5.73" height="2.40" fill="#21918c"/><rect x="426.73" y="281.12" width="5.73" height="2.40" fill="#2e6f8e"/><rect x="426.73" y="278.72" width="5.73" height="2.40" fill="#4cc26c"/><rect x="426.73" y="276.32" width="5.73" height="2.40" fill="#1fa287"/><rect x="432.46" y="283.51" width="5.73" height="2.40" fill="#3e4989"/><rect x="432.46" y="281.12" width="5.73" height="2.40" fill="#481c6e"/><rect x="432.46" y="278.72" width="5.73" height="2.40" fill="#27808e"/><rect x="432.46" y="276.32" width="5.73" height="2.40" fill="#4cc26c"/><rect x="432.46" y="273.92" width="5.73" height="2.40" fill="#1fa287"/><rect x="432.46" y="285.91" width="5.73" height="2.40" fill="#2eb37c"/><rect x="438.20" y="273.92" width="5.73" height="2.40" fill="#440154"/><rect x="438.20" y="276.32" width="5.73" height="2.40" fill="#440154"/><rect x="438.20" y="278.72" width="5.73" height="2.40" fill="#21918c"/><rect x="438.20" y="281.12" width="5.73" height="2.40" fill="#4cc26c"/><rect x="438.20" y="283.51" width="5.73" height="2.40" fill="#a0da39"/><rect x="443.93" y="271.52" width="5.73" height="2.40" fill="#4cc26c"/><rect x="443.93" y="273.92" width="5.73" height="2.40" fill="#440154"/><rect x="443.93" y="276.32" width="5.73" height="2.40" fill="#440154"/><rect x="449.66" y="269.13" width="5.73" height="2.40" fill="#21918c"/><rect x="449.66" y="271.52" width="5.73" height="2.40" fill="#440154"/><rect x="449.66" y="273.92" width="5.73" height="2.40" fill="#d0e11c"/><rect x="455.40" y="269.13" width="5.73" height="2.40" fill="#440154"/><rect x="455.40" y="271.52" width="5.73" height="2.40" fill="#21918c"/><rect x="455.40" y="273.92" width="5.73" height="2.40" fill="#d0e11c"/><rect x="461.13" y="266.73" width="5.73" height="2.40" fill="#4cc26c"/><rect x="461.13" y="269.13" width="5.73" height="2.40" fill="#440154"/><rect x="461.13" y="271.52" width="5.73" height="2.40" fill="#21918c"/><rect x="466.86" y="266.73" width="5.73" height="2.40" fill="#39568c"/><rect x="466.86" y="269.13" width="5.73" height="2.40" fill="#440154"/><rect x="472.59" y="264.33" width="5.73" height="2.40" fill="#d0e11c"/><rect x="472.59" y="266.73" width="5.73" height="2.40" fill="#440154"/><rect x="472.59" y="269.13" width="5.73" height="2.40" fill="#440154"/><rect x="478.33" y="264.33" width="5.73" height="2.40" fill="#39568c"/><rect x="478.33" y="266.73" width="5.73" height="2.40" fill="#440154"/><rect x="478.33" y="269.13" width="5.73" height="2.40" fill="#440154"/><rect x="484.06" y="264.33" width="5.73" height="2.40" fill="#440154"/><rect x="484.06" y="266.73" width="5.73" height="2.40" fill="#440154"/><rect x="484.06" y="269.13" width="5.73" height="2.40" fill="#39568c"/><rect x="489.79" y="261.93" width="5.73" height="2.40" fill="#4cc26c"/><rect x="489.79" y="264.33" width="5.73" height="2.40" fill="#440154"/><rect x="489.79" y="266.73" width="5.73" height="2.40" fill="#d0e11c"/><rect x="495.52" y="259.53" width="5.73" height="2.40" fill="#4cc26c"/><rect x="495.52" y="261.93" width="5.73" height="2.40" fill="#440154"/><rect x="495.52" y="264.33" width="5.73" height="2.40" fill="#440154"/><rect x="495.52" y="266.73" width="5.73" height="2.40" fill="#d0e11c"/><rect x="501.26" y="259.53" width="5.73" height="2.40" fill="#440154"/><rect x="501.26" y="261.93" width="5.73" height="2.40" fill="#440154"/><rect x="506.99" y="257.14" width="5.73" height="2.40" fill="#440154"/><rect x="506.99" y="259.53" width="5.73" height="2.40" fill="#440154"/><rect x="506.99" y="261.93" width="5.73" height="2.40" fill="#d0e11c"/><rect x="512.72" y="254.74" width="5.73" height="2.40" fill="#21918c"/><rect x="512.72" y="257.14" width="5.73" height="2.40" fill="#39568c"/><rect x="512.72" y="259.53" width="5.73" height="2.40" fill="#39568c"/><rect x="518.46" y="254.74" width="5.73" height="2.40" fill="#440154"/><rect x="518.46" y="257.14" width="5.73" height="2.40" fill="#440154"/><rect x="524.19" y="254.74" width="5.73" height="2.40" fill="#4cc26c"/><rect x="524.19" y="257.14" width="5.73" height="2.40" fill="#440154"/><rect x="529.92" y="254.74" width="5.73" height="2.40" fill="#4cc26c"/><rect x="529.92" y="257.14" width="5.73" height="2.40" fill="#440154"/><rect x="529.92" y="259.53" width="5.73" height="2.40" fill="#21918c"/><rect x="535.65" y="257.14" width="5.73" height="2.40" fill="#d0e11c"/><rect x="535.65" y="259.53" width="5.73" height="2.40" fill="#440154"/><rect x="535.65" y="261.93" width="5.73" height="2.40" fill="#440154"/><rect x="541.39" y="261.93" width="5.73" height="2.40" fill="#4cc26c"/><rect x="541.39" y="264.33" width="5.73" height="2.40" fill="#4cc26c"/><rect x="541.39" y="266.73" width="5.73" height="2.40" fill="#440154"/><rect x="541.39" y="269.13" width="5.73" height="2.40" fill="#440154"/><rect x="547.12" y="264.33" width="5.73" height="2.40" fill="#d0e11c"/><rect x="547.12" y="266.73" width="5.73" height="2.40" fill="#d0e11c"/><rect x="547.12" y="269.13" width="5.73" height="2.40" fill="#d0e11c"/><rect x="547.12" y="271.52" width="5.73" height="2.40" fill="#440154"/><rect x="547.12" y="273.92" width="5.73" height="2.40" fill="#440154"/><rect x="552.85" y="266.73" width="5.73" height="2.40" fill="#d0e11c"/><rect x="552.85" y="269.13" width="5.73" height="2.40" fill="#d0e11c"/><rect x="552.85" y="271.52" width="5.73" height="2.40" fill="#a0da39"/><rect x="552.85" y="273.92" width="5.73" height="2.40" fill="#d0e11c"/><rect x="552.85" y="276.32" width="5.73" height="2.40" fill="#d0e11c"/><rect x="552.85" y="278.72" width="5.73" height="2.40" fill="#440154"/><rect x="552.85" y="281.12" width="5.73" height="2.40" fill="#440154"/><rect x="552.85" y="283.51" width="5.73" height="2.40" fill="#4cc26c"/><rect x="558.59" y="290.71" width="5.73" height="2.40" fill="#2eb37c"/><rect x="558.59" y="288.31" width="5.73" height="2.40" fill="#463480"/><rect x="558.59" y="285.91" width="5.73" height="2.40" fill="#463480"/><rect x="558.59" y="283.51" width="5.73" height="2.40" fill="#21918c"/><rect x="558.59" y="281.12" width="5.73" height="2.40" fill="#2eb37c"/><rect x="558.59" y="278.72" width="5.73" height="2.40" fill="#1fa287"/><rect x="564.32" y="293.11" width="5.73" height="2.40" fill="#463480"/><rect x="564.32" y="290.71" width="5.73" height="2.40" fill="#3e4989"/><rect x="564.32" y="288.31" width="5.73" height="2.40" fill="#21918c"/><rect x="564.32" y="285.91" width="5.73" height="2.40" fill="#27808e"/><rect x="564.32" y="281.12" width="5.73" height="2.40" fill="#1fa287"/><rect x="564.32" y="283.51" width="5.73" height="2.40" fill="#73d056"/><rect x="570.05" y="297.90" width="5.73" height="2.40" fill="#2eb37c"/><rect x="570.05" y="295.50" width="5.73" height="2.40" fill="#481c6e"/><rect x="570.05" y="293.11" width="5.73" height="2.40" fill="#2eb37c"/><rect x="570.05" y="290.71" width="5.73" height="2.40" fill="#2eb37c"/><rect x="570.05" y="288.31" width="5.73" height="2.40" fill="#1fa287"/><rect x="570.05" y="281.12" width="5.73" height="2.40" fill="#73d056"/><rect x="570.05" y="283.51" width="5.73" height="2.40" fill="#73d056"/><rect x="570.05" y="285.91" width="5.73" height="2.40" fill="#73d056"/><rect x="575.78" y="300.30" width="5.73" height="2.40" fill="#27808e"/><rect x="575.78" y="297.90" width="5.73" height="2.40" fill="#365d8d"/><rect x="575.78" y="293.11" width="5.73" height="2.40" fill="#3e4989"/><rect x="575.78" y="290.71" width="5.73" height="2.40" fill="#73d056"/><rect x="575.78" y="295.50" width="5.73" height="2.40" fill="#73d056"/><rect x="575.78" y="283.51" width="5.73" height="2.40" fill="#a0da39"/><rect x="575.78" y="285.91" width="5.73" height="2.40" fill="#a0da39"/><rect x="575.78" y="288.31" width="5.73" height="2.40" fill="#a0da39"/><rect x="575.78" y="302.70" width="5.73" height="2.40" fill="#a0da39"/><rect x="581.52" y="302.70" width="5.73" height="2.40" fill="#3e4989"/><rect x="581.52" y="305.10" width="5.73" height="2.40" fill="#2eb37c"/><rect x="581.52" y="300.30" width="5.73" height="2.40" fill="#2eb37c"/><rect x="581.52" y="295.50" width="5.73" height="2.40" fill="#2eb37c"/><rect x="581.52" y="297.90" width="5.73" height="2.40" fill="#a0da39"/><rect x="581.52" y="293.11" width="5.73" height="2.40" fill="#21918c"/><rect x="581.52" y="290.71" width="5.73" height="2.40" fill="#4cc26c"/><rect x="581.52" y="285.91" width="5.73" height="2.40" fill="#a0da39"/><rect x="581.52" y="288.31" width="5.73" height="2.40" fill="#d0e11c"/><rect x="581.52" y="307.49" width="5.73" height="2.40" fill="#d0e11c"/><rect x="587.25" y="307.49" width="5.73" height="2.40" fill="#2e6f8e"/><rect x="587.25" y="305.10" width="5.73" height="2.40" fill="#27808e"/><rect x="587.25" y="302.70" width="5.73" height="2.40" fill="#73d056"/><rect x="587.25" y="300.30" width="5.73" height="2.40" fill="#73d056"/><rect x="587.25" y="297.90" width="5.73" height="2.40" fill="#a0da39"/><rect x="587.25" y="295.50" width="5.73" height="2.40" fill="#2eb37c"/><rect x="587.25" y="293.11" width="5.73" height="2.40" fill="#1fa287"/><rect x="587.25" y="290.71" width="5.73" height="2.40" fill="#a0da39"/><rect x="587.25" y="285.91" width="5.73" height="2.40" fill="#d0e11c"/><rect x="587.25" y="288.31" width="5.73" height="2.40" fill="#a0da39"/><rect x="587.25" y="309.89" width="5.73" height="2.40" fill="#d0e11c"/><rect x="587.25" y="312.29" width="5.73" height="2.40" fill="#d0e11c"/><rect x="592.98" y="309.89" width="5.73" height="2.40" fill="#21918c"/><rect x="592.98" y="312.29" width="5.73" height="2.40" fill="#a0da39"/><rect x="592.98" y="307.49" width="5.73" height="2.40" fill="#2e6f8e"/><rect x="592.98" y="305.10" width="5.73" height="2.40" fill="#4cc26c"/><rect x="592.98" y="302.70" width="5.73" height="2.40" fill="#a0da39"/><rect x="592.98" y="300.30" width="5.73" height="2.40" fill="#73d056"/><rect x="592.98" y="295.50" width="5.73" height="2.40" fill="#73d056"/><rect x="592.98" y="293.11" width="5.73" height="2.40" fill="#21918c"/><rect x="592.98" y="288.31" width="5.73" height="2.40" fill="#d0e11c"/><rect x="592.98" y="290.71" width="5.73" height="2.40" fill="#a0da39"/><rect x="592.98" y="297.90" width="5.73" height="2.40" fill="#a0da39"/><rect x="592.98" y="314.69" width="5.73" height="2.40" fill="#d0e11c"/><rect x="598.71" y="314.69" width="5.73" height="2.40" fill="#a0da39"/><rect x="598.71" y="312.29" width="5.73" height="2.40" fill="#27808e"/><rect x="598.71" y="309.89" width="5.73" height="2.40" fill="#27808e"/><rect x="598.71" y="307.49" width="5.73" height="2.40" fill="#4cc26c"/><rect x="598.71" y="305.10" width="5.73" height="2.40" fill="#a0da39"/><rect x="598.71" y="302.70" width="5.73" height="2.40" fill="#a0da39"/><rect x="598.71" y="295.50" width="5.73" height="2.40" fill="#4cc26c"/><rect x="598.71" y="293.11" width="5.73" height="2.40" fill="#21918c"/><rect x="598.71" y="288.31" width="5.73" height="2.40" fill="#d0e11c"/><rect x="598.71" y="290.71" width="5.73" height="2.40" fill="#d0e11c"/><rect x="598.71" y="297.90" width="5.73" height="2.40" fill="#a0da39"/><rect x="598.71" y="300.30" width="5.73" height="2.40" fill="#d0e11c"/><rect x="598.71" y="317.09" width="5.73" height="2.40" fill="#d0e11c"/><rect x="604.45" y="319.48" width="5.73" height="2.40" fill="#a0da39"/><rect x="604.45" y="317.09" width="5.73" height="2.40" fill="#27808e"/><rect x="604.45" y="314.69" width="5.73" height="2.40" fill="#21918c"/><rect x="604.45" y="312.29" width="5.73" height="2.40" fill="#73d056"/><rect x="604.45" y="309.89" width="5.73" height="2.40" fill="#d0e11c"/><rect x="604.45" y="307.49" width="5.73" height="2.40" fill="#2eb37c"/><rect x="604.45" y="295.50" width="5.73" height="2.40" fill="#2eb37c"/><rect x="604.45" y="293.11" width="5.73" height="2.40" fill="#1fa287"/><rect x="604.45" y="288.31" width="5.73" height="2.40" fill="#d0e11c"/><rect x="604.45" y="290.71" width="5.73" height="2.40" fill="#d0e11c"/><rect x="604.45" y="300.30" width="5.73" height="2.40" fill="#d0e11c"/><rect x="604.45" y="297.90" width="5.73" height="2.40" fill="#d0e11c"/><rect x="610.18" y="321.88" width="5.73" height="2.40" fill="#2e6f8e"/><rect x="610.18" y="319.48" width="5.73" height="2.40" fill="#27808e"/><rect x="610.18" y="314.69" width="5.73" height="2.40" fill="#4cc26c"/><rect x="610.18" y="312.29" width="5.73" height="2.40" fill="#a0da39"/><rect x="610.18" y="293.11" width="5.73" height="2.40" fill="#1fa287"/><rect x="610.18" y="295.50" width="5.73" height="2.40" fill="#73d056"/><rect x="610.18" y="290.71" width="5.73" height="2.40" fill="#a0da39"/><rect x="610.18" y="297.90" width="5.73" height="2.40" fill="#a0da39"/><rect x="610.18" y="302.70" width="5.73" height="2.40" fill="#d0e11c"/><rect x="610.18" y="300.30" width="5.73" height="2.40" fill="#d0e11c"/><rect x="610.18" y="305.10" width="5.73" height="2.40" fill="#d0e11c"/><rect x="610.18" y="307.49" width="5.73" height="2.40" fill="#d0e11c"/><rect x="610.18" y="309.89" width="5.73" height="2.40" fill="#a0da39"/><rect x="610.18" y="317.09" width="5.73" height="2.40" fill="#d0e11c"/><rect x="615.91" y="324.28" width="5.73" height="2.40" fill="#2eb37c"/><rect x="615.91" y="321.88" width="5.73" height="2.40" fill="#3e4989"/><rect x="615.91" y="319.48" width="5.73" height="2.40" fill="#a0da39"/><rect x="615.91" y="314.69" width="5.73" height="2.40" fill="#4cc26c"/><rect x="615.91" y="312.29" width="5.73" height="2.40" fill="#d0e11c"/><rect x="615.91" y="295.50" width="5.73" height="2.40" fill="#2eb37c"/><rect x="615.91" y="293.11" width="5.73" height="2.40" fill="#4cc26c"/><rect x="615.91" y="290.71" width="5.73" height="2.40" fill="#a0da39"/><rect x="615.91" y="288.31" width="5.73" height="2.40" fill="#d0e11c"/><rect x="615.91" y="297.90" width="5.73" height="2.40" fill="#d0e11c"/><rect x="615.91" y="300.30" width="5.73" height="2.40" fill="#d0e11c"/><rect x="615.91" y="305.10" width="5.73" height="2.40" fill="#d0e11c"/><rect x="615.91" y="307.49" width="5.73" height="2.40" fill="#d0e11c"/><rect x="615.91" y="309.89" width="5.73" height="2.40" fill="#a0da39"/><rect x="615.91" y="317.09" width="5.73" height="2.40" fill="#d0e11c"/><rect x="621.65" y="324.28" width="5.73" height="2.40" fill="#365d8d"/><rect x="621.65" y="326.68" width="5.73" height="2.40" fill="#a0da39"/><rect x="621.65" y="321.88" width="5.73" height="2.40" fill="#1fa287"/><rect x="621.65" y="317.09" width="5.73" height="2.40" fill="#4cc26c"/><rect x="621.65" y="314.69" width="5.73" height="2.40" fill="#d0e11c"/><rect x="621.65" y="295.50" width="5.73" height="2.40" fill="#2eb37c"/><rect x="621.65" y="293.11" width="5.73" height="2.40" fill="#2eb37c"/><rect x="621.65" y="288.31" width="5.73" height="2.40" fill="#d0e11c"/><rect x="621.65" y="290.71" width="5.73" height="2.40" fill="#d0e11c"/><rect x="621.65" y="297.90" width="5.73" height="2.40" fill="#d0e11c"/><rect x="621.65" y="302.70" width="5.73" height="2.40" fill="#a0da39"/><rect x="621.65" y="309.89" width="5.73" height="2.40" fill="#d0e11c"/><rect x="621.65" y="312.29" width="5.73" height="2.40" fill="#a0da39"/><rect x="621.65" y="319.48" width="5.73" height="2.40" fill="#d0e11c"/><rect x="627.38" y="326.68" width="5.73" height="2.40" fill="#27808e"/><rect x="627.38" y="324.28" width="5.73" height="2.40" fill="#27808e"/><rect x="627.38" y="321.88" width="5.73" height="2.40" fill="#a0da39"/><rect x="627.38" y="319.48" width="5.73" height="2.40" fill="#73d056"/><rect x="627.38" y="317.09" width="5.73" height="2.40" fill="#a0da39"/><rect x="627.38" y="314.69" width="5.73" height="2.40" fill="#a0da39"/><rect x="627.38" y="297.90" width="5.73" height="2.40" fill="#a0da39"/><rect x="627.38" y="295.50" width="5.73" height="2.40" fill="#4cc26c"/><rect x="627.38" y="293.11" width="5.73" height="2.40" fill="#2eb37c"/><rect x="627.38" y="290.71" width="5.73" height="2.40" fill="#d0e11c"/><rect x="627.38" y="300.30" width="5.73" height="2.40" fill="#d0e11c"/><rect x="627.38" y="305.10" width="5.73" height="2.40" fill="#d0e11c"/><rect x="627.38" y="302.70" width="5.73" height="2.40" fill="#d0e11c"/><rect x="627.38" y="307.49" width="5.73" height="2.40" fill="#d0e11c"/><rect x="627.38" y="309.89" width="5.73" height="2.40" fill="#d0e11c"/><rect x="627.38" y="312.29" width="5.73" height="2.40" fill="#d0e11c"/><rect x="633.11" y="326.68" width="5.73" height="2.40" fill="#1fa287"/><rect x="633.11" y="329.08" width="5.73" height="2.40" fill="#a0da39"/><rect x="633.11" y="324.28" width="5.73" height="2.40" fill="#2e6f8e"/><rect x="633.11" y="321.88" width="5.73" height="2.40" fill="#73d056"/><rect x="633.11" y="319.48" width="5.73" height="2.40" fill="#a0da39"/><rect x="633.11" y="317.09" width="5.73" height="2.40" fill="#a0da39"/><rect x="633.11" y="297.90" width="5.73" height="2.40" fill="#a0da39"/><rect x="633.11" y="295.50" width="5.73" height="2.40" fill="#2eb37c"/><rect x="633.11" y="293.11" width="5.73" height="2.40" fill="#4cc26c"/><rect x="633.11" y="290.71" width="5.73" height="2.40" fill="#d0e11c"/><rect x="633.11" y="300.30" width="5.73" height="2.40" fill="#d0e11c"/><rect x="633.11" y="305.10" width="5.73" height="2.40" fill="#a0da39"/><rect x="633.11" y="307.49" width="5.73" height="2.40" fill="#d0e11c"/><rect x="633.11" y="314.69" width="5.73" height="2.40" fill="#a0da39"/><rect x="638.84" y="329.08" width="5.73" height="2.40" fill="#a0da39"/><rect x="638.84" y="326.68" width="5.73" height="2.40" fill="#27808e"/><rect x="638.84" y="324.28" width="5.73" height="2.40" fill="#21918c"/><rect x="638.84" y="321.88" width="5.73" height="2.40" fill="#73d056"/><rect x="638.84" y="319.48" width="5.73" height="2.40" fill="#a0da39"/><rect x="638.84" y="317.09" width="5.73" height="2.40" fill="#a0da39"/><rect x="638.84" y="295.50" width="5.73" height="2.40" fill="#21918c"/><rect x="638.84" y="293.11" width="5.73" height="2.40" fill="#73d056"/><rect x="638.84" y="288.31" width="5.73" height="2.40" fill="#d0e11c"/><rect x="638.84" y="290.71" width="5.73" height="2.40" fill="#d0e11c"/><rect x="638.84" y="300.30" width="5.73" height="2.40" fill="#d0e11c"/><rect x="638.84" y="302.70" width="5.73" height="2.40" fill="#a0da39"/><rect x="638.84" y="312.29" width="5.73" height="2.40" fill="#d0e11c"/><rect x="644.58" y="326.68" width="5.73" height="2.40" fill="#2e6f8e"/><rect x="644.58" y="324.28" width="5.73" height="2.40" fill="#21918c"/><rect x="644.58" y="321.88" width="5.73" height="2.40" fill="#a0da39"/><rect x="644.58" y="319.48" width="5.73" height="2.40" fill="#d0e11c"/><rect x="644.58" y="317.09" width="5.73" height="2.40" fill="#4cc26c"/><rect x="644.58" y="295.50" width="5.73" height="2.40" fill="#2eb37c"/><rect x="644.58" y="293.11" width="5.73" height="2.40" fill="#4cc26c"/><rect x="644.58" y="281.12" width="5.73" height="2.40" fill="#d0e11c"/><rect x="644.58" y="283.51" width="5.73" height="2.40" fill="#d0e11c"/><rect x="644.58" y="288.31" width="5.73" height="2.40" fill="#d0e11c"/><rect x="644.58" y="290.71" width="5.73" height="2.40" fill="#d0e11c"/><rect x="644.58" y="297.90" width="5.73" height="2.40" fill="#d0e11c"/><rect x="644.58" y="300.30" width="5.73" height="2.40" fill="#d0e11c"/><rect x="644.58" y="302.70" width="5.73" height="2.40" fill="#d0e11c"/><rect x="644.58" y="305.10" width="5.73" height="2.40" fill="#d0e11c"/><rect x="644.58" y="309.89" width="5.73" height="2.40" fill="#d0e11c"/><rect x="644.58" y="314.69" width="5.73" height="2.40" fill="#d0e11c"/><rect x="650.31" y="326.68" width="5.73" height="2.40" fill="#73d056"/><rect x="650.31" y="324.28" width="5.73" height="2.40" fill="#365d8d"/><rect x="650.31" y="321.88" width="5.73" height="2.40" fill="#2eb37c"/><rect x="650.31" y="317.09" width="5.73" height="2.40" fill="#4cc26c"/><rect x="650.31" y="314.69" width="5.73" height="2.40" fill="#a0da39"/><rect x="650.31" y="295.50" width="5.73" height="2.40" fill="#1fa287"/><rect x="650.31" y="297.90" width="5.73" height="2.40" fill="#a0da39"/><rect x="650.31" y="293.11" width="5.73" height="2.40" fill="#73d056"/><rect x="650.31" y="288.31" width="5.73" height="2.40" fill="#d0e11c"/><rect x="650.31" y="290.71" width="5.73" height="2.40" fill="#d0e11c"/><rect x="650.31" y="302.70" width="5.73" height="2.40" fill="#d0e11c"/><rect x="650.31" y="305.10" width="5.73" height="2.40" fill="#d0e11c"/><rect x="650.31" y="307.49" width="5.73" height="2.40" fill="#a0da39"/><rect x="650.31" y="312.29" width="5.73" height="2.40" fill="#d0e11c"/><rect x="650.31" y="319.48" width="5.73" height="2.40" fill="#d0e11c"/><rect x="656.04" y="324.28" width="5.73" height="2.40" fill="#2eb37c"/><rect x="656.04" y="321.88" width="5.73" height="2.40" fill="#3e4989"/><rect x="656.04" y="319.48" width="5.73" height="2.40" fill="#a0da39"/><rect x="656.04" y="314.69" width="5.73" height="2.40" fill="#4cc26c"/><rect x="656.04" y="312.29" width="5.73" height="2.40" fill="#a0da39"/><rect x="656.04" y="295.50" width="5.73" height="2.40" fill="#2eb37c"/><rect x="656.04" y="297.90" width="5.73" height="2.40" fill="#a0da39"/><rect x="656.04" y="293.11" width="5.73" height="2.40" fill="#4cc26c"/><rect x="656.04" y="288.31" width="5.73" height="2.40" fill="#d0e11c"/><rect x="656.04" y="290.71" width="5.73" height="2.40" fill="#d0e11c"/><rect x="656.04" y="300.30" width="5.73" height="2.40" fill="#d0e11c"/><rect x="656.04" y="302.70" width="5.73" height="2.40" fill="#d0e11c"/><rect x="656.04" y="305.10" width="5.73" height="2.40" fill="#d0e11c"/><rect x="656.04" y="307.49" width="5.73" height="2.40" fill="#d0e11c"/><rect x="656.04" y="309.89" width="5.73" height="2.40" fill="#d0e11c"/><rect x="656.04" y="317.09" width="5.73" height="2.40" fill="#d0e11c"/><rect x="661.77" y="321.88" width="5.73" height="2.40" fill="#27808e"/><rect x="661.77" y="319.48" width="5.73" height="2.40" fill="#2e6f8e"/><rect x="661.77" y="314.69" width="5.73" height="2.40" fill="#73d056"/><rect x="661.77" y="312.29" width="5.73" height="2.40" fill="#a0da39"/><rect x="661.77" y="309.89" width="5.73" height="2.40" fill="#a0da39"/><rect x="661.77" y="297.90" width="5.73" height="2.40" fill="#73d056"/><rect x="661.77" y="295.50" width="5.73" height="2.40" fill="#2eb37c"/><rect x="661.77" y="293.11" width="5.73" height="2.40" fill="#73d056"/><rect x="661.77" y="285.91" width="5.73" height="2.40" fill="#d0e11c"/><rect x="661.77" y="288.31" width="5.73" height="2.40" fill="#d0e11c"/><rect x="661.77" y="290.71" width="5.73" height="2.40" fill="#d0e11c"/><rect x="661.77" y="302.70" width="5.73" height="2.40" fill="#a0da39"/><rect x="661.77" y="305.10" width="5.73" height="2.40" fill="#d0e11c"/><rect x="661.77" y="307.49" width="5.73" height="2.40" fill="#d0e11c"/><rect x="661.77" y="317.09" width="5.73" height="2.40" fill="#d0e11c"/><rect x="667.51" y="319.48" width="5.73" height="2.40" fill="#365d8d"/><rect x="667.51" y="321.88" width="5.73" height="2.40" fill="#73d056"/><rect x="667.51" y="317.09" width="5.73" height="2.40" fill="#2eb37c"/><rect x="667.51" y="314.69" width="5.73" height="2.40" fill="#73d056"/><rect x="667.51" y="309.89" width="5.73" height="2.40" fill="#73d056"/><rect x="667.51" y="297.90" width="5.73" height="2.40" fill="#a0da39"/><rect x="667.51" y="295.50" width="5.73" height="2.40" fill="#1fa287"/><rect x="667.51" y="293.11" width="5.73" height="2.40" fill="#a0da39"/><rect x="667.51" y="283.51" width="5.73" height="2.40" fill="#d0e11c"/><rect x="667.51" y="285.91" width="5.73" height="2.40" fill="#d0e11c"/><rect x="667.51" y="288.31" width="5.73" height="2.40" fill="#d0e11c"/><rect x="667.51" y="290.71" width="5.73" height="2.40" fill="#d0e11c"/><rect x="667.51" y="300.30" width="5.73" height="2.40" fill="#d0e11c"/><rect x="667.51" y="302.70" width="5.73" height="2.40" fill="#a0da39"/><rect x="667.51" y="305.10" width="5.73" height="2.40" fill="#d0e11c"/><rect x="667.51" y="312.29" width="5.73" height="2.40" fill="#d0e11c"/><rect x="673.24" y="319.48" width="5.73" height="2.40" fill="#1fa287"/><rect x="673.24" y="317.09" width="5.73" height="2.40" fill="#2e6f8e"/><rect x="673.24" y="314.69" width="5.73" height="2.40" fill="#73d056"/><rect x="673.24" y="312.29" width="5.73" height="2.40" fill="#73d056"/><rect x="673.24" y="309.89" width="5.73" height="2.40" fill="#a0da39"/><rect x="673.24" y="307.49" width="5.73" height="2.40" fill="#a0da39"/><rect x="673.24" y="295.50" width="5.73" height="2.40" fill="#4cc26c"/><rect x="673.24" y="293.11" width="5.73" height="2.40" fill="#1fa287"/><rect x="673.24" y="283.51" width="5.73" height="2.40" fill="#d0e11c"/><rect x="673.24" y="285.91" width="5.73" height="2.40" fill="#d0e11c"/><rect x="673.24" y="288.31" width="5.73" height="2.40" fill="#d0e11c"/><rect x="673.24" y="290.71" width="5.73" height="2.40" fill="#d0e11c"/><rect x="673.24" y="300.30" width="5.73" height="2.40" fill="#a0da39"/><rect x="673.24" y="302.70" width="5.73" height="2.40" fill="#d0e11c"/><rect x="678.97" y="319.48" width="5.73" height="2.40" fill="#d0e11c"/><rect x="678.97" y="317.09" width="5.73" height="2.40" fill="#365d8d"/><rect x="678.97" y="314.69" width="5.73" height="2.40" fill="#21918c"/><rect x="678.97" y="312.29" width="5.73" height="2.40" fill="#a0da39"/><rect x="678.97" y="309.89" width="5.73" height="2.40" fill="#a0da39"/><rect x="678.97" y="307.49" width="5.73" height="2.40" fill="#73d056"/><rect x="678.97" y="295.50" width="5.73" height="2.40" fill="#a0da39"/><rect x="678.97" y="293.11" width="5.73" height="2.40" fill="#2eb37c"/><rect x="678.97" y="290.71" width="5.73" height="2.40" fill="#73d056"/><rect x="678.97" y="281.12" width="5.73" height="2.40" fill="#d0e11c"/><rect x="678.97" y="283.51" width="5.73" height="2.40" fill="#d0e11c"/><rect x="678.97" y="288.31" width="5.73" height="2.40" fill="#d0e11c"/><rect x="678.97" y="300.30" width="5.73" height="2.40" fill="#a0da39"/><rect x="678.97" y="302.70" width="5.73" height="2.40" fill="#d0e11c"/><rect x="684.71" y="317.09" width="5.73" height="2.40" fill="#73d056"/><rect x="684.71" y="314.69" width="5.73" height="2.40" fill="#3e4989"/><rect x="684.71" y="312.29" width="5.73" height="2.40" fill="#4cc26c"/><rect x="684.71" y="309.89" width="5.73" height="2.40" fill="#a0da39"/><rect x="684.71" y="307.49" width="5.73" height="2.40" fill="#2eb37c"/><rect x="684.71" y="293.11" width="5.73" height="2.40" fill="#2eb37c"/><rect x="684.71" y="290.71" width="5.73" height="2.40" fill="#2eb37c"/><rect x="684.71" y="281.12" width="5.73" height="2.40" fill="#d0e11c"/><rect x="684.71" y="283.51" width="5.73" height="2.40" fill="#d0e11c"/><rect x="684.71" y="288.31" width="5.73" height="2.40" fill="#d0e11c"/><rect x="684.71" y="297.90" width="5.73" height="2.40" fill="#a0da39"/><rect x="684.71" y="300.30" width="5.73" height="2.40" fill="#a0da39"/><rect x="690.44" y="314.69" width="5.73" height="2.40" fill="#4cc26c"/><rect x="690.44" y="312.29" width="5.73" height="2.40" fill="#3e4989"/><rect x="690.44" y="309.89" width="5.73" height="2.40" fill="#73d056"/><rect x="690.44" y="307.49" width="5.73" height="2.40" fill="#a0da39"/><rect x="690.44" y="305.10" width="5.73" height="2.40" fill="#2eb37c"/><rect x="690.44" y="290.71" width="5.73" height="2.40" fill="#4cc26c"/><rect x="690.44" y="293.11" width="5.73" height="2.40" fill="#a0da39"/><rect x="690.44" y="288.31" width="5.73" height="2.40" fill="#4cc26c"/><rect x="690.44" y="278.72" width="5.73" height="2.40" fill="#d0e11c"/><rect x="690.44" y="281.12" width="5.73" height="2.40" fill="#d0e11c"/><rect x="690.44" y="283.51" width="5.73" height="2.40" fill="#d0e11c"/><rect x="690.44" y="285.91" width="5.73" height="2.40" fill="#d0e11c"/><rect x="690.44" y="295.50" width="5.73" height="2.40" fill="#a0da39"/><rect x="690.44" y="297.90" width="5.73" height="2.40" fill="#a0da39"/><rect x="696.17" y="312.29" width="5.73" height="2.40" fill="#27808e"/><rect x="696.17" y="309.89" width="5.73" height="2.40" fill="#2e6f8e"/><rect x="696.17" y="307.49" width="5.73" height="2.40" fill="#a0da39"/><rect x="696.17" y="305.10" width="5.73" height="2.40" fill="#4cc26c"/><rect x="696.17" y="302.70" width="5.73" height="2.40" fill="#a0da39"/><rect x="696.17" y="290.71" width="5.73" height="2.40" fill="#4cc26c"/><rect x="696.17" y="288.31" width="5.73" height="2.40" fill="#2eb37c"/><rect x="696.17" y="285.91" width="5.73" height="2.40" fill="#a0da39"/><rect x="696.17" y="281.12" width="5.73" height="2.40" fill="#a0da39"/><rect x="696.17" y="295.50" width="5.73" height="2.40" fill="#a0da39"/><rect x="696.17" y="297.90" width="5.73" height="2.40" fill="#a0da39"/><rect x="701.90" y="309.89" width="5.73" height="2.40" fill="#27808e"/><rect x="701.90" y="312.29" width="5.73" height="2.40" fill="#73d056"/><rect x="701.90" y="307.49" width="5.73" height="2.40" fill="#27808e"/><rect x="701.90" y="302.70" width="5.73" height="2.40" fill="#4cc26c"/><rect x="701.90" y="300.30" width="5.73" height="2.40" fill="#d0e11c"/><rect x="701.90" y="290.71" width="5.73" height="2.40" fill="#a0da39"/><rect x="701.90" y="288.31" width="5.73" height="2.40" fill="#2eb37c"/><rect x="701.90" y="285.91" width="5.73" height="2.40" fill="#73d056"/><rect x="701.90" y="278.72" width="5.73" height="2.40" fill="#a0da39"/><rect x="701.90" y="281.12" width="5.73" height="2.40" fill="#d0e11c"/><rect x="701.90" y="293.11" width="5.73" height="2.40" fill="#a0da39"/><rect x="701.90" y="295.50" width="5.73" height="2.40" fill="#d0e11c"/><rect x="701.90" y="297.90" width="5.73" height="2.40" fill="#d0e11c"/><rect x="707.64" y="307.49" width="5.73" height="2.40" fill="#365d8d"/><rect x="707.64" y="309.89" width="5.73" height="2.40" fill="#73d056"/><rect x="707.64" y="305.10" width="5.73" height="2.40" fill="#2eb37c"/><rect x="707.64" y="302.70" width="5.73" height="2.40" fill="#73d056"/><rect x="707.64" y="300.30" width="5.73" height="2.40" fill="#a0da39"/><rect x="707.64" y="297.90" width="5.73" height="2.40" fill="#a0da39"/><rect x="707.64" y="290.71" width="5.73" height="2.40" fill="#a0da39"/><rect x="707.64" y="288.31" width="5.73" height="2.40" fill="#4cc26c"/><rect x="707.64" y="285.91" width="5.73" height="2.40" fill="#2eb37c"/><rect x="707.64" y="278.72" width="5.73" height="2.40" fill="#a0da39"/><rect x="707.64" y="281.12" width="5.73" height="2.40" fill="#d0e11c"/><rect x="707.64" y="283.51" width="5.73" height="2.40" fill="#d0e11c"/><rect x="707.64" y="293.11" width="5.73" height="2.40" fill="#d0e11c"/><rect x="707.64" y="295.50" width="5.73" height="2.40" fill="#d0e11c"/><rect x="707.64" y="312.29" width="5.73" height="2.40" fill="#d0e11c"/><rect x="713.37" y="307.49" width="5.73" height="2.40" fill="#2eb37c"/><rect x="713.37" y="305.10" width="5.73" height="2.40" fill="#2e6f8e"/><rect x="713.37" y="302.70" width="5.73" height="2.40" fill="#2eb37c"/><rect x="713.37" y="300.30" width="5.73" height="2.40" fill="#a0da39"/><rect x="713.37" y="297.90" width="5.73" height="2.40" fill="#73d056"/><rect x="713.37" y="288.31" width="5.73" height="2.40" fill="#a0da39"/><rect x="713.37" y="285.91" width="5.73" height="2.40" fill="#1fa287"/><rect x="713.37" y="283.51" width="5.73" height="2.40" fill="#73d056"/><rect x="713.37" y="276.32" width="5.73" height="2.40" fill="#a0da39"/><rect x="713.37" y="278.72" width="5.73" height="2.40" fill="#d0e11c"/><rect x="713.37" y="290.71" width="5.73" height="2.40" fill="#d0e11c"/><rect x="713.37" y="293.11" width="5.73" height="2.40" fill="#d0e11c"/><rect x="713.37" y="295.50" width="5.73" height="2.40" fill="#d0e11c"/><rect x="713.37" y="309.89" width="5.73" height="2.40" fill="#d0e11c"/><rect x="719.10" y="307.49" width="5.73" height="2.40" fill="#a0da39"/><rect x="719.10" y="305.10" width="5.73" height="2.40" fill="#21918c"/><rect x="719.10" y="302.70" width="5.73" height="2.40" fill="#27808e"/><rect x="719.10" y="300.30" width="5.73" height="2.40" fill="#73d056"/><rect x="719.10" y="297.90" width="5.73" height="2.40" fill="#a0da39"/><rect x="719.10" y="295.50" width="5.73" height="2.40" fill="#73d056"/><rect x="719.10" y="285.91" width="5.73" height="2.40" fill="#4cc26c"/><rect x="719.10" y="283.51" width="5.73" height="2.40" fill="#2eb37c"/><rect x="719.10" y="281.12" width="5.73" height="2.40" fill="#a0da39"/><rect x="719.10" y="276.32" width="5.73" height="2.40" fill="#a0da39"/><rect x="719.10" y="288.31" width="5.73" height="2.40" fill="#d0e11c"/><rect x="719.10" y="290.71" width="5.73" height="2.40" fill="#d0e11c"/><rect x="719.10" y="309.89" width="5.73" height="2.40" fill="#d0e11c"/><rect x="724.83" y="305.10" width="5.73" height="2.40" fill="#73d056"/><rect x="724.83" y="302.70" width="5.73" height="2.40" fill="#27808e"/><rect x="724.83" y="300.30" width="5.73" height="2.40" fill="#21918c"/><rect x="724.83" y="297.90" width="5.73" height="2.40" fill="#a0da39"/><rect x="724.83" y="295.50" width="5.73" height="2.40" fill="#73d056"/><rect x="724.83" y="283.51" width="5.73" height="2.40" fill="#2eb37c"/><rect x="724.83" y="281.12" width="5.73" height="2.40" fill="#4cc26c"/><rect x="724.83" y="273.92" width="5.73" height="2.40" fill="#a0da39"/><rect x="724.83" y="276.32" width="5.73" height="2.40" fill="#d0e11c"/><rect x="724.83" y="278.72" width="5.73" height="2.40" fill="#d0e11c"/><rect x="724.83" y="285.91" width="5.73" height="2.40" fill="#a0da39"/><rect x="724.83" y="288.31" width="5.73" height="2.40" fill="#d0e11c"/><rect x="724.83" y="293.11" width="5.73" height="2.40" fill="#a0da39"/><rect x="724.83" y="307.49" width="5.73" height="2.40" fill="#d0e11c"/><rect x="724.83" y="309.89" width="5.73" height="2.40" fill="#d0e11c"/><rect x="736.30" y="300.30" width="5.73" height="2.40" fill="#2e6f8e"/><rect x="736.30" y="297.90" width="5.73" height="2.40" fill="#27808e"/><rect x="736.30" y="293.11" width="5.73" height="2.40" fill="#4cc26c"/><rect x="736.30" y="290.71" width="5.73" height="2.40" fill="#a0da39"/><rect x="736.30" y="281.12" width="5.73" height="2.40" fill="#2eb37c"/><rect x="736.30" y="278.72" width="5.73" height="2.40" fill="#4cc26c"/><rect x="736.30" y="276.32" width="5.73" height="2.40" fill="#73d056"/><rect x="736.30" y="269.13" width="5.73" height="2.40" fill="#a0da39"/><rect x="736.30" y="273.92" width="5.73" height="2.40" fill="#d0e11c"/><rect x="736.30" y="283.51" width="5.73" height="2.40" fill="#d0e11c"/><rect x="736.30" y="285.91" width="5.73" height="2.40" fill="#d0e11c"/><rect x="736.30" y="288.31" width="5.73" height="2.40" fill="#a0da39"/><rect x="736.30" y="295.50" width="5.73" height="2.40" fill="#d0e11c"/><rect x="736.30" y="302.70" width="5.73" height="2.40" fill="#d0e11c"/><rect x="736.30" y="305.10" width="5.73" height="2.40" fill="#a0da39"/><rect x="736.30" y="307.49" width="5.73" height="2.40" fill="#d0e11c"/><rect x="747.77" y="297.90" width="5.73" height="2.40" fill="#27808e"/><rect x="747.77" y="300.30" width="5.73" height="2.40" fill="#4cc26c"/><rect x="747.77" y="295.50" width="5.73" height="2.40" fill="#21918c"/><rect x="747.77" y="293.11" width="5.73" height="2.40" fill="#4cc26c"/><rect x="747.77" y="290.71" width="5.73" height="2.40" fill="#a0da39"/><rect x="747.77" y="288.31" width="5.73" height="2.40" fill="#a0da39"/><rect x="747.77" y="278.72" width="5.73" height="2.40" fill="#4cc26c"/><rect x="747.77" y="276.32" width="5.73" height="2.40" fill="#1fa287"/><rect x="747.77" y="273.92" width="5.73" height="2.40" fill="#a0da39"/><rect x="747.77" y="271.52" width="5.73" height="2.40" fill="#a0da39"/><rect x="747.77" y="281.12" width="5.73" height="2.40" fill="#d0e11c"/><rect x="747.77" y="283.51" width="5.73" height="2.40" fill="#d0e11c"/><rect x="747.77" y="285.91" width="5.73" height="2.40" fill="#73d056"/><rect x="747.77" y="302.70" width="5.73" height="2.40" fill="#d0e11c"/><rect x="730.57" y="305.10" width="5.73" height="2.40" fill="#73d056"/><rect x="730.57" y="302.70" width="5.73" height="2.40" fill="#27808e"/><rect x="730.57" y="300.30" width="5.73" height="2.40" fill="#21918c"/><rect x="730.57" y="297.90" width="5.73" height="2.40" fill="#a0da39"/><rect x="730.57" y="295.50" width="5.73" height="2.40" fill="#73d056"/><rect x="730.57" y="283.51" width="5.73" height="2.40" fill="#2eb37c"/><rect x="730.57" y="281.12" width="5.73" height="2.40" fill="#4cc26c"/><rect x="730.57" y="273.92" width="5.73" height="2.40" fill="#a0da39"/><rect x="730.57" y="276.32" width="5.73" height="2.40" fill="#d0e11c"/><rect x="730.57" y="278.72" width="5.73" height="2.40" fill="#d0e11c"/><rect x="730.57" y="285.91" width="5.73" height="2.40" fill="#a0da39"/><rect x="730.57" y="288.31" width="5.73" height="2.40" fill="#d0e11c"/><rect x="730.57" y="293.11" width="5.73" height="2.40" fill="#a0da39"/><rect x="730.57" y="307.49" width="5.73" height="2.40" fill="#d0e11c"/><rect x="730.57" y="309.89" width="5.73" height="2.40" fill="#d0e11c"/><rect x="742.03" y="300.30" width="5.73" height="2.40" fill="#2e6f8e"/><rect x="742.03" y="297.90" width="5.73" height="2.40" fill="#27808e"/><rect x="742.03" y="293.11" width="5.73" height="2.40" fill="#4cc26c"/><rect x="742.03" y="290.71" width="5.73" height="2.40" fill="#a0da39"/><rect x="742.03" y="281.12" width="5.73" height="2.40" fill="#2eb37c"/><rect x="742.03" y="278.72" width="5.73" height="2.40" fill="#4cc26c"/><rect x="742.03" y="276.32" width="5.73" height="2.40" fill="#73d056"/><rect x="742.03" y="269.13" width="5.73" height="2.40" fill="#a0da39"/><rect x="742.03" y="273.92" width="5.73" height="2.40" fill="#d0e11c"/><rect x="742.03" y="283.51" width="5.73" height="2.40" fill="#d0e11c"/><rect x="742.03" y="285.91" width="5.73" height="2.40" fill="#d0e11c"/><rect x="742.03" y="288.31" width="5.73" height="2.40" fill="#a0da39"/><rect x="742.03" y="295.50" width="5.73" height="2.40" fill="#d0e11c"/><rect x="742.03" y="302.70" width="5.73" height="2.40" fill="#d0e11c"/><rect x="742.03" y="305.10" width="5.73" height="2.40" fill="#a0da39"/><rect x="742.03" y="307.49" width="5.73" height="2.40" fill="#d0e11c"/><rect x="753.50" y="297.90" width="3.05" height="2.40" fill="#27808e"/><rect x="753.50" y="300.30" width="3.05" height="2.40" fill="#4cc26c"/><rect x="753.50" y="295.50" width="3.05" height="2.40" fill="#21918c"/><rect x="753.50" y="293.11" width="3.05" height="2.40" fill="#4cc26c"/><rect x="753.50" y="290.71" width="3.05" height="2.40" fill="#a0da39"/><rect x="753.50" y="288.31" width="3.05" height="2.40" fill="#a0da39"/><rect x="753.50" y="278.72" width="3.05" height="2.40" fill="#4cc26c"/><rect x="753.50" y="276.32" width="3.05" height="2.40" fill="#1fa287"/><rect x="753.50" y="273.92" width="3.05" height="2.40" fill="#a0da39"/><rect x="753.50" y="271.52" width="3.05" height="2.40" fill="#a0da39"/><rect x="753.50" y="281.12" width="3.05" height="2.40" fill="#d0e11c"/><rect x="753.50" y="283.51" width="3.05" height="2.40" fill="#d0e11c"/><rect x="753.50" y="285.91" width="3.05" height="2.40" fill="#73d056"/><rect x="753.50" y="302.70" width="3.05" height="2.40" fill="#d0e11c"/><rect x="558.59" y="269.13" width="5.73" height="2.40" fill="#d0e11c"/><rect x="564.32" y="264.33" width="5.73" height="2.40" fill="#d0e11c"/><rect x="564.32" y="266.73" width="5.73" height="2.40" fill="#d0e11c"/><rect x="570.05" y="261.93" width="5.73" height="2.40" fill="#d0e11c"/><rect x="575.78" y="257.14" width="5.73" height="2.40" fill="#d0e11c"/><rect x="575.78" y="247.54" width="5.73" height="2.40" fill="#d0e11c"/><rect x="581.52" y="247.54" width="5.73" height="2.40" fill="#d0e11c"/><rect x="581.52" y="254.74" width="5.73" height="2.40" fill="#d0e11c"/><rect x="581.52" y="269.13" width="5.73" height="2.40" fill="#d0e11c"/><rect x="587.25" y="242.75" width="5.73" height="2.40" fill="#d0e11c"/><rect x="587.25" y="249.94" width="5.73" height="2.40" fill="#d0e11c"/><rect x="587.25" y="266.73" width="5.73" height="2.40" fill="#d0e11c"/><rect x="592.98" y="237.95" width="5.73" height="2.40" fill="#d0e11c"/><rect x="592.98" y="245.15" width="5.73" height="2.40" fill="#d0e11c"/><rect x="592.98" y="264.33" width="5.73" height="2.40" fill="#d0e11c"/><rect x="592.98" y="266.73" width="5.73" height="2.40" fill="#d0e11c"/><rect x="598.71" y="237.95" width="5.73" height="2.40" fill="#d0e11c"/><rect x="598.71" y="242.75" width="5.73" height="2.40" fill="#d0e11c"/><rect x="598.71" y="266.73" width="5.73" height="2.40" fill="#d0e11c"/><rect x="604.45" y="237.95" width="5.73" height="2.40" fill="#d0e11c"/><rect x="604.45" y="240.35" width="5.73" height="2.40" fill="#d0e11c"/><rect x="604.45" y="271.52" width="5.73" height="2.40" fill="#d0e11c"/><rect x="610.18" y="245.15" width="5.73" height="2.40" fill="#d0e11c"/><rect x="610.18" y="278.72" width="5.73" height="2.40" fill="#d0e11c"/><rect x="615.91" y="247.54" width="5.73" height="2.40" fill="#d0e11c"/><rect x="615.91" y="283.51" width="5.73" height="2.40" fill="#d0e11c"/><rect x="621.65" y="252.34" width="5.73" height="2.40" fill="#d0e11c"/><rect x="627.38" y="261.93" width="5.73" height="2.40" fill="#d0e11c"/><rect x="633.11" y="271.52" width="5.73" height="2.40" fill="#d0e11c"/><rect x="638.84" y="278.72" width="5.73" height="2.40" fill="#d0e11c"/>
</g>
<path d="M108.50 60.50V420.20M154.50 60.50V420.20M181.50 60.50V420.20M200.50 60.50V420.20M215.50 60.50V420.20M227.50 60.50V420.20M237.50 60.50V420.20M246.50 60.50V420.20M253.50 60.50V420.20M260.50 60.50V420.20M306.50 60.50V420.20M333.50 60.50V420.20M352.50 60.50V420.20M367.50 60.50V420.20M379.50 60.50V420.20M389.50 60.50V420.20M398.50 60.50V420.20M406.50 60.50V420.20M413.50 60.50V420.20M459.50 60.50V420.20M485.50 60.50V420.20M504.50 60.50V420.20M519.50 60.50V420.20M531.50 60.50V420.20M542.50 60.50V420.20M550.50 60.50V420.20M558.50 60.50V420.20M565.50 60.50V420.20M611.50 60.50V420.20M638.50 60.50V420.20M657.50 60.50V420.20M672.50 60.50V420.20M684.50 60.50V420.20M694.50 60.50V420.20M703.50 60.50V420.20M710.50 60.50V420.20M717.50 60.50V420.20M108.56 84.50H756.55M108.56 132.50H756.55M108.56 180.50H756.55M108.56 228.50H756.55M108.56 276.50H756.55M108.56 324.50H756.55M108.56 372.50H756.55" stroke="#b0b0b0" stroke-width="1" fill="none"/>
<defs><clipPath id="ax"><rect x="108.565" y="60.5" width="647.9849999999999" height="359.7"/></clipPath></defs>
<g clip-path="url(#ax)"><path d="M260.91 343.46 L296.02 340.35 L352.64 340.34 L398.50 346.34 L427.50 333.15 L471.19 297.05 L509.77 278.96 L519.75 278.95 L531.82 297.90 L565.62 333.27 L577.68 339.26 L595.04 329.38 L617.48 366.26 L641.74 384.22 L665.13 390.23 L694.37 390.23 L718.62 384.23 L746.53 384.20 L796.56 390.20" stroke="#666666" stroke-width="2.8" fill="none" stroke-linejoin="round" stroke-linecap="square"/>
<path d="M260.91 160.02 L313.08 174.18 L337.87 205.57 L398.50 228.36 L501.60 175.60 L514.24 172.00 L535.04 182.80 L550.02 212.76 L594.18 228.37 L611.48 272.72 L801.76 242.76" stroke="#666666" stroke-width="2.8" fill="none" stroke-linejoin="round" stroke-linecap="square"/></g>
<rect x="108.565" y="60.5" width="647.9849999999999" height="359.7" fill="none" stroke="#000" stroke-width="1.1"/>
<path d="M108.56 420.20v4.86" stroke="#000" stroke-width="1.1"/>
<path d="M154.43 420.20v2.78" stroke="#000" stroke-width="0.83"/>
<path d="M181.25 420.20v2.78" stroke="#000" stroke-width="0.83"/>
<path d="M200.29 420.20v2.78" stroke="#000" stroke-width="0.83"/>
<path d="M215.05 420.20v2.78" stroke="#000" stroke-width="0.83"/>
<path d="M227.12 420.20v2.78" stroke="#000" stroke-width="0.83"/>
<path d="M237.32 420.20v2.78" stroke="#000" stroke-width="0.83"/>
<path d="M246.15 420.20v2.78" stroke="#000" stroke-width="0.83"/>
<path d="M253.94 420.20v2.78" stroke="#000" stroke-width="0.83"/>
<path d="M260.91 420.20v4.86" stroke="#000" stroke-width="1.1"/>
<path d="M306.78 420.20v2.78" stroke="#000" stroke-width="0.83"/>
<path d="M333.60 420.20v2.78" stroke="#000" stroke-width="0.83"/>
<path d="M352.64 420.20v2.78" stroke="#000" stroke-width="0.83"/>
<path d="M367.40 420.20v2.78" stroke="#000" stroke-width="0.83"/>
<path d="M379.47 420.20v2.78" stroke="#000" stroke-width="0.83"/>
<path d="M389.67 420.20v2.78" stroke="#000" stroke-width="0.83"/>
<path d="M398.50 420.20v2.78" stroke="#000" stroke-width="0.83"/>
<path d="M406.29 420.20v2.78" stroke="#000" stroke-width="0.83"/>
<path d="M413.26 420.20v4.86" stroke="#000" stroke-width="1.1"/>
<path d="M459.13 420.20v2.78" stroke="#000" stroke-width="0.83"/>
<path d="M485.95 420.20v2.78" stroke="#000" stroke-width="0.83"/>
<path d="M504.99 420.20v2.78" stroke="#000" stroke-width="0.83"/>
<path d="M519.75 420.20v2.78" stroke="#000" stroke-width="0.83"/>
<path d="M531.82 420.20v2.78" stroke="#000" stroke-width="0.83"/>
<path d="M542.02 420.20v2.78" stroke="#000" stroke-width="0.83"/>
<path d="M550.85 420.20v2.78" stroke="#000" stroke-width="0.83"/>
<path d="M558.64 420.20v2.78" stroke="#000" stroke-width="0.83"/>
<path d="M565.62 420.20v4.86" stroke="#000" stroke-width="1.1"/>
<path d="M611.48 420.20v2.78" stroke="#000" stroke-width="0.83"/>
<path d="M638.30 420.20v2.78" stroke="#000" stroke-width="0.83"/>
<path d="M657.34 420.20v2.78" stroke="#000" stroke-width="0.83"/>
<path d="M672.10 420.20v2.78" stroke="#000" stroke-width="0.83"/>
<path d="M684.17 420.20v2.78" stroke="#000" stroke-width="0.83"/>
<path d="M694.37 420.20v2.78" stroke="#000" stroke-width="0.83"/>
<path d="M703.20 420.20v2.78" stroke="#000" stroke-width="0.83"/>
<path d="M710.99 420.20v2.78" stroke="#000" stroke-width="0.83"/>
<path d="M717.96 420.20v4.86" stroke="#000" stroke-width="1.1"/>
<path d="M108.56 84.48h-4.86" stroke="#000" stroke-width="1.1"/>
<path d="M108.56 132.44h-4.86" stroke="#000" stroke-width="1.1"/>
<path d="M108.56 180.40h-4.86" stroke="#000" stroke-width="1.1"/>
<path d="M108.56 228.36h-4.86" stroke="#000" stroke-width="1.1"/>
<path d="M108.56 276.32h-4.86" stroke="#000" stroke-width="1.1"/>
<path d="M108.56 324.28h-4.86" stroke="#000" stroke-width="1.1"/>
<path d="M108.56 372.24h-4.86" stroke="#000" stroke-width="1.1"/>
<path d="M108.56 420.20h-4.86" stroke="#000" stroke-width="1.1"/>
<text x="97.30" y="90.08" text-anchor="end" font-size="13.9" fill="#000" stroke="#000" stroke-width="0.12" textLength="27.3" lengthAdjust="spacingAndGlyphs" >−60</text>
<text x="97.30" y="138.04" text-anchor="end" font-size="13.9" fill="#000" stroke="#000" stroke-width="0.12" textLength="27.3" lengthAdjust="spacingAndGlyphs" >−80</text>
<text x="97.30" y="186.00" text-anchor="end" font-size="13.9" fill="#000" stroke="#000" stroke-width="0.12" textLength="34.8" lengthAdjust="spacingAndGlyphs" >−100</text>
<text x="97.30" y="233.96" text-anchor="end" font-size="13.9" fill="#000" stroke="#000" stroke-width="0.12" textLength="34.8" lengthAdjust="spacingAndGlyphs" >−120</text>
<text x="97.30" y="281.92" text-anchor="end" font-size="13.9" fill="#000" stroke="#000" stroke-width="0.12" textLength="34.8" lengthAdjust="spacingAndGlyphs" >−140</text>
<text x="97.30" y="329.88" text-anchor="end" font-size="13.9" fill="#000" stroke="#000" stroke-width="0.12" textLength="34.8" lengthAdjust="spacingAndGlyphs" >−160</text>
<text x="97.30" y="377.84" text-anchor="end" font-size="13.9" fill="#000" stroke="#000" stroke-width="0.12" textLength="34.8" lengthAdjust="spacingAndGlyphs" >−180</text>
<text x="97.30" y="425.80" text-anchor="end" font-size="13.9" fill="#000" stroke="#000" stroke-width="0.12" textLength="34.8" lengthAdjust="spacingAndGlyphs" >−200</text>
<text x="108.56" y="440.60" text-anchor="middle" font-size="13.9" fill="#000" stroke="#000" stroke-width="0.12" textLength="28.4" lengthAdjust="spacingAndGlyphs" >0.01</text>
<text x="260.91" y="440.60" text-anchor="middle" font-size="13.9" fill="#000" stroke="#000" stroke-width="0.12" textLength="20.3" lengthAdjust="spacingAndGlyphs" >0.1</text>
<text x="413.26" y="440.60" text-anchor="middle" font-size="13.9" fill="#000" stroke="#000" stroke-width="0.12" textLength="8" lengthAdjust="spacingAndGlyphs" >1</text>
<text x="565.62" y="440.60" text-anchor="middle" font-size="13.9" fill="#000" stroke="#000" stroke-width="0.12" textLength="15.6" lengthAdjust="spacingAndGlyphs" >10</text>
<text x="717.96" y="440.60" text-anchor="middle" font-size="13.9" fill="#000" stroke="#000" stroke-width="0.12" textLength="24.4" lengthAdjust="spacingAndGlyphs" >100</text>
<text x="432.00" y="459.70" text-anchor="middle" font-size="13.9" fill="#000" stroke="#000" stroke-width="0.12" textLength="64.3" lengthAdjust="spacingAndGlyphs" >Period [s]</text>
<g transform="translate(48.3 240) rotate(-90)"><text x="0.00" y="0.00" text-anchor="middle" font-size="13.9" fill="#000" stroke="#000" stroke-width="0.12" textLength="180" lengthAdjust="spacingAndGlyphs" >Amplitude [<tspan font-style="italic">m</tspan><tspan font-size="10.5" dy="-5">2</tspan><tspan dy="5">/</tspan><tspan font-style="italic">s</tspan><tspan font-size="10.5" dy="-5">4</tspan><tspan dy="5">/</tspan><tspan font-style="italic">Hz</tspan>] [dB]</text></g>
<text x="129.00" y="52.00" text-anchor="start" font-size="13.9" fill="#000" stroke="#000" stroke-width="0.12" textLength="104.6" lengthAdjust="spacingAndGlyphs" >ME.KOME..HHN</text>
<text x="247.80" y="52.00" text-anchor="start" font-size="13.9" fill="#000" stroke="#000" stroke-width="0.12" textLength="56.8" lengthAdjust="spacingAndGlyphs" >100.0Hz</text>
<text x="317.60" y="52.00" text-anchor="start" font-size="13.9" fill="#000" stroke="#000" stroke-width="0.12" textLength="150.8" lengthAdjust="spacingAndGlyphs" >2026-02-26T00:00:02</text>
<text x="481.60" y="52.00" text-anchor="start" font-size="13.9" fill="#000" stroke="#000" stroke-width="0.12" textLength="149.7" lengthAdjust="spacingAndGlyphs" >2026-02-26T23:00:02</text>
<text x="645.40" y="52.00" text-anchor="start" font-size="13.9" fill="#000" stroke="#000" stroke-width="0.12" textLength="89.6" lengthAdjust="spacingAndGlyphs" >47 segments</text>
<text x="240.60" y="52.00" text-anchor="middle" font-size="13.9" fill="#000" stroke="#000" stroke-width="0.12" >|</text>
<text x="311.20" y="52.00" text-anchor="middle" font-size="13.9" fill="#000" stroke="#000" stroke-width="0.12" >|</text>
<text x="475.20" y="52.00" text-anchor="middle" font-size="13.9" fill="#000" stroke="#000" stroke-width="0.12" >-</text>
<text x="638.00" y="52.00" text-anchor="middle" font-size="13.9" fill="#000" stroke="#000" stroke-width="0.12" >|</text>
<defs><linearGradient id="vir" x1="0" y1="1" x2="0" y2="0">
<stop offset="0.0000" stop-color="#fde725"/>
<stop offset="0.0312" stop-color="#ece51b"/>
<stop offset="0.0625" stop-color="#d8e219"/>
<stop offset="0.0938" stop-color="#c2df23"/>
<stop offset="0.1250" stop-color="#addc30"/>
<stop offset="0.1562" stop-color="#98d83e"/>
<stop offset="0.1875" stop-color="#84d44b"/>
<stop offset="0.2188" stop-color="#70cf57"/>
<stop offset="0.2500" stop-color="#5ec962"/>
<stop offset="0.2812" stop-color="#4ec36b"/>
<stop offset="0.3125" stop-color="#3fbc73"/>
<stop offset="0.3438" stop-color="#32b67a"/>
<stop offset="0.3750" stop-color="#28ae80"/>
<stop offset="0.4062" stop-color="#22a785"/>
<stop offset="0.4375" stop-color="#1fa088"/>
<stop offset="0.4688" stop-color="#1f988b"/>
<stop offset="0.5000" stop-color="#21918c"/>
<stop offset="0.5312" stop-color="#23898e"/>
<stop offset="0.5625" stop-color="#26828e"/>
<stop offset="0.5938" stop-color="#297a8e"/>
<stop offset="0.6250" stop-color="#2c728e"/>
<stop offset="0.6562" stop-color="#2f6b8e"/>
<stop offset="0.6875" stop-color="#33638d"/>
<stop offset="0.7188" stop-color="#375b8d"/>
<stop offset="0.7500" stop-color="#3b528b"/>
<stop offset="0.7812" stop-color="#3e4989"/>
<stop offset="0.8125" stop-color="#424086"/>
<stop offset="0.8438" stop-color="#453781"/>
<stop offset="0.8750" stop-color="#472d7b"/>
<stop offset="0.9062" stop-color="#482374"/>
<stop offset="0.9375" stop-color="#48186a"/>
<stop offset="0.9688" stop-color="#470d60"/>
<stop offset="1.0000" stop-color="#440154"/>
</linearGradient></defs>
<rect x="797.5" y="60.5" width="18.30" height="359.70" fill="url(#vir)" stroke="#000" stroke-width="1.1"/>
<path d="M815.80 420.20h4.86" stroke="#000" stroke-width="1.1"/>
<text x="825.00" y="425.80" text-anchor="start" font-size="13.9" fill="#000" stroke="#000" stroke-width="0.12" textLength="8.2" lengthAdjust="spacingAndGlyphs" >0</text>
<path d="M815.80 360.25h4.86" stroke="#000" stroke-width="1.1"/>
<text x="825.00" y="365.85" text-anchor="start" font-size="13.9" fill="#000" stroke="#000" stroke-width="0.12" textLength="8.2" lengthAdjust="spacingAndGlyphs" >5</text>
<path d="M815.80 300.30h4.86" stroke="#000" stroke-width="1.1"/>
<text x="825.00" y="305.90" text-anchor="start" font-size="13.9" fill="#000" stroke="#000" stroke-width="0.12" textLength="15.2" lengthAdjust="spacingAndGlyphs" >10</text>
<path d="M815.80 240.35h4.86" stroke="#000" stroke-width="1.1"/>
<text x="825.00" y="245.95" text-anchor="start" font-size="13.9" fill="#000" stroke="#000" stroke-width="0.12" textLength="15.2" lengthAdjust="spacingAndGlyphs" >15</text>
<path d="M815.80 180.40h4.86" stroke="#000" stroke-width="1.1"/>
<text x="825.00" y="186.00" text-anchor="start" font-size="13.9" fill="#000" stroke="#000" stroke-width="0.12" textLength="15.2" lengthAdjust="spacingAndGlyphs" >20</text>
<path d="M815.80 120.45h4.86" stroke="#000" stroke-width="1.1"/>
<text x="825.00" y="126.05" text-anchor="start" font-size="13.9" fill="#000" stroke="#000" stroke-width="0.12" textLength="15.2" lengthAdjust="spacingAndGlyphs" >25</text>
<path d="M815.80 60.50h4.86" stroke="#000" stroke-width="1.1"/>
<text x="825.00" y="66.10" text-anchor="start" font-size="13.9" fill="#000" stroke="#000" stroke-width="0.12" textLength="15.2" lengthAdjust="spacingAndGlyphs" >30</text>
<g transform="translate(859 242.4) rotate(-90)"><text x="0.00" y="0.00" text-anchor="middle" font-size="13.9" fill="#000" stroke="#000" stroke-width="0.12" textLength="20.8" lengthAdjust="spacingAndGlyphs" >[%]</text></g>
<rect x="164.2" y="475.3" width="8.8" height="8.4" fill="#008000"/>
<rect x="733" y="475" width="3" height="9" fill="#008000"/>
<rect x="733" y="484" width="3" height="14.3" fill="#0000ff"/>
<rect x="135.3" y="474.5" width="630.50" height="23.80" fill="none" stroke="#000" stroke-width="1.1"/>
<path d="M228.70 498.30v4.86" stroke="#000" stroke-width="1.1"/>
<g transform="translate(221.20 509.80) rotate(-30)"><text x="0.00" y="10.00" text-anchor="end" font-size="13.9" fill="#000" stroke="#000" stroke-width="0.12" textLength="57" lengthAdjust="spacingAndGlyphs" >2025-10</text></g>
<path d="M334.40 498.30v4.86" stroke="#000" stroke-width="1.1"/>
<g transform="translate(326.90 509.80) rotate(-30)"><text x="0.00" y="10.00" text-anchor="end" font-size="13.9" fill="#000" stroke="#000" stroke-width="0.12" textLength="57" lengthAdjust="spacingAndGlyphs" >2025-11</text></g>
<path d="M436.70 498.30v4.86" stroke="#000" stroke-width="1.1"/>
<g transform="translate(429.20 509.80) rotate(-30)"><text x="0.00" y="10.00" text-anchor="end" font-size="13.9" fill="#000" stroke="#000" stroke-width="0.12" textLength="57" lengthAdjust="spacingAndGlyphs" >2025-12</text></g>
<path d="M542.40 498.30v4.86" stroke="#000" stroke-width="1.1"/>
<g transform="translate(534.90 509.80) rotate(-30)"><text x="0.00" y="10.00" text-anchor="end" font-size="13.9" fill="#000" stroke="#000" stroke-width="0.12" textLength="57" lengthAdjust="spacingAndGlyphs" >2026-01</text></g>
<path d="M648.10 498.30v4.86" stroke="#000" stroke-width="1.1"/>
<g transform="translate(640.60 509.80) rotate(-30)"><text x="0.00" y="10.00" text-anchor="end" font-size="13.9" fill="#000" stroke="#000" stroke-width="0.12" textLength="57" lengthAdjust="spacingAndGlyphs" >2026-02</text></g>
<path d="M743.60 498.30v4.86" stroke="#000" stroke-width="1.1"/>
<g transform="translate(736.10 509.80) rotate(-30)"><text x="0.00" y="10.00" text-anchor="end" font-size="13.9" fill="#000" stroke="#000" stroke-width="0.12" textLength="57" lengthAdjust="spacingAndGlyphs" >2026-03</text></g>
<rect x="0" y="577" width="900" height="23" fill="#808080"/>
<text x="8.90" y="595.00" text-anchor="start" font-size="13.9" fill="#fff" stroke="#fff" stroke-width="0.12" textLength="183.7" lengthAdjust="spacingAndGlyphs" >Generated by SeedPSD on</text>
<text x="198.40" y="595.00" text-anchor="start" font-size="13.9" fill="#fff" stroke="#fff" stroke-width="0.12" textLength="78.45" lengthAdjust="spacingAndGlyphs" >2026-03-04</text>
<text x="289.90" y="595.00" text-anchor="start" font-size="13.9" fill="#fff" stroke="#fff" stroke-width="0.12" textLength="166.7" lengthAdjust="spacingAndGlyphs" >Calculations updated on</text>
<text x="463.15" y="595.00" text-anchor="start" font-size="13.9" fill="#fff" stroke="#fff" stroke-width="0.12" textLength="79.95" lengthAdjust="spacingAndGlyphs" >2026-02-27</text>
<text x="547.40" y="595.00" text-anchor="start" font-size="13.9" fill="#fff" stroke="#fff" stroke-width="0.12" textLength="76.2" lengthAdjust="spacingAndGlyphs" >(Outdated)</text>
<text x="283.90" y="595.00" text-anchor="middle" font-size="13.9" fill="#fff" stroke="#fff" stroke-width="0.12" >|</text>
</svg></body></html>
